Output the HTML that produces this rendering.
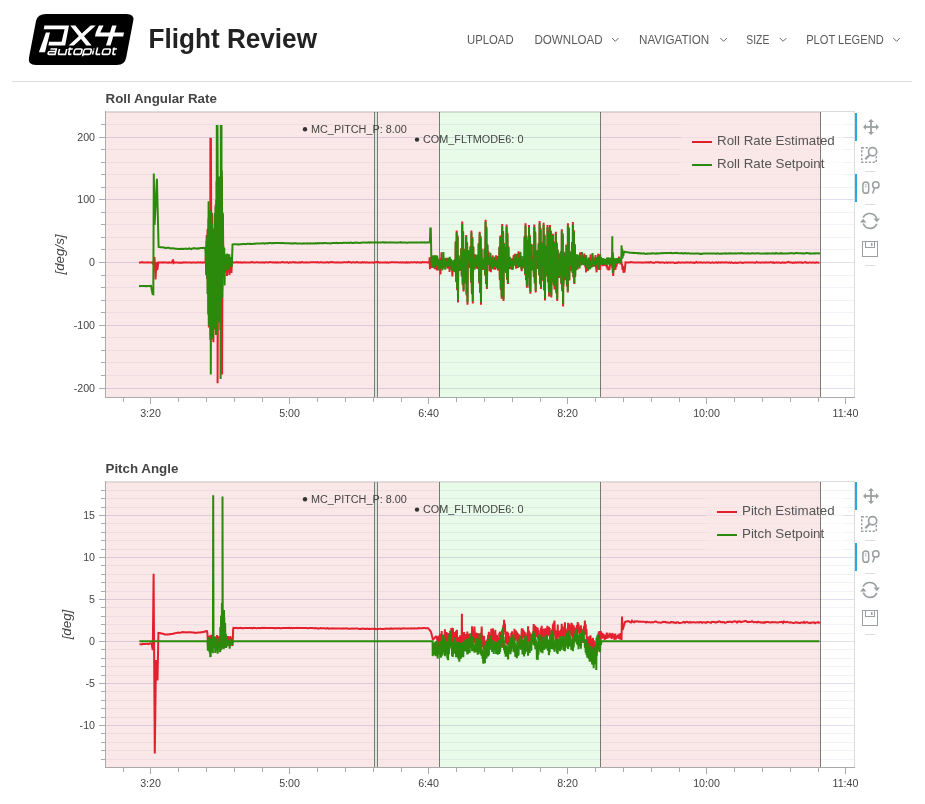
<!DOCTYPE html>
<html><head><meta charset="utf-8"><title>Flight Review</title>
<style>html,body{margin:0;padding:0;background:#fff;width:925px;height:804px;overflow:hidden}
svg{display:block;font-family:'Liberation Sans', sans-serif;will-change:transform}</style></head>
<body><svg width="925" height="804" viewBox="0 0 925 804">
<path d="M46,14 L126.5,14 Q134.5,14 133.3,20.5 L126.2,57.5 Q124.8,65 117,65 L36,65 Q27.5,65 29,57.5 L36,21 Q37.5,14 46,14 Z" fill="#000"/>
<path d="M44.4,25.6 L69,25.6 L65.2,45.4 L48.4,45.4 L49.1,41.8 L61.6,41.8 L64.6,29.3 L43.8,29.3 Z" fill="#fff"/>
<path d="M45.9,32.6 L50,32.6 L45,52.2 L38.9,52.2 Z" fill="#fff"/>
<path d="M70.2,25.6 L75.4,25.6 L91.6,45.4 L86.3,45.4 Z M90.6,25.6 L95.8,25.6 L73.8,45.4 L68.6,45.4 Z" fill="#fff"/>
<path d="M98.9,25.6 L103.6,25.6 L100.2,32.6 L124,32.6 L123.2,36.6 L95,36.6 L95.8,32.6 Z" fill="#fff"/>
<path d="M112.1,25.6 L116.6,25.6 L110.5,45.4 L106,45.4 Z" fill="#fff"/>
<path transform="translate(47.6,54.4) skewX(-14)" d="M1.5,-5.4 H7.4 V0 H1.5 Q0.2,0 0.2,-1.3 V-1.6 Q0.2,-2.9 1.5,-2.9 H7.4" fill="none" stroke="#fff" stroke-width="1.6"/>
<path transform="translate(58.0,54.4) skewX(-14)" d="M0.2,-5.4 V-1.5 Q0.2,0 1.7,0 H7.4 V-5.4" fill="none" stroke="#fff" stroke-width="1.6"/>
<path transform="translate(67.0,54.4) skewX(-14)" d="M1.4,-6.8 V-1.5 Q1.4,0 2.9,0 H4.4 M0,-5.4 H4.4" fill="none" stroke="#fff" stroke-width="1.6"/>
<path transform="translate(73.4,54.4) skewX(-14)" d="M1.6,-5.4 H6 Q7.5,-5.4 7.5,-3.9 V-1.5 Q7.5,0 6,0 H1.6 Q0.2,0 0.2,-1.5 V-3.9 Q0.2,-5.4 1.6,-5.4 Z" fill="none" stroke="#fff" stroke-width="1.6"/>
<path transform="translate(82.8,54.4) skewX(-14)" d="M0.2,1.8 V-3.9 Q0.2,-5.4 1.7,-5.4 H6 Q7.5,-5.4 7.5,-3.9 V-1.5 Q7.5,0 6,0 H0.2" fill="none" stroke="#fff" stroke-width="1.6"/>
<path transform="translate(91.8,54.4) skewX(-14)" d="M0.7,-4.0 V0 M0.7,-5.9 V-5.0" fill="none" stroke="#fff" stroke-width="1.6"/>
<path transform="translate(95.2,54.4) skewX(-14)" d="M0.7,-6.8 V-1.5 Q0.7,0 2.2,0 H5.0" fill="none" stroke="#fff" stroke-width="1.6"/>
<path transform="translate(101.8,54.4) skewX(-14)" d="M1.6,-5.4 H6 Q7.5,-5.4 7.5,-3.9 V-1.5 Q7.5,0 6,0 H1.6 Q0.2,0 0.2,-1.5 V-3.9 Q0.2,-5.4 1.6,-5.4 Z" fill="none" stroke="#fff" stroke-width="1.6"/>
<path transform="translate(111.2,54.4) skewX(-14)" d="M1.4,-6.8 V-1.5 Q1.4,0 2.9,0 H4.4 M0,-5.4 H4.4" fill="none" stroke="#fff" stroke-width="1.6"/>
<text x="148.5" y="47.8" font-size="27.4" font-weight="bold" fill="#222" textLength="168.5" lengthAdjust="spacingAndGlyphs">Flight Review</text>
<text x="467" y="43.8" font-size="13.4" fill="#5a5a5a" textLength="46.6" lengthAdjust="spacingAndGlyphs">UPLOAD</text>
<text x="534.5" y="43.8" font-size="13.4" fill="#5a5a5a" textLength="68.2" lengthAdjust="spacingAndGlyphs">DOWNLOAD</text>
<path d="M612,38 l3.3,3.3 l3.3,-3.3" fill="none" stroke="#5a5a5a" stroke-width="0.9"/>
<text x="639" y="43.8" font-size="13.4" fill="#5a5a5a" textLength="70.3" lengthAdjust="spacingAndGlyphs">NAVIGATION</text>
<path d="M720.3,38 l3.3,3.3 l3.3,-3.3" fill="none" stroke="#5a5a5a" stroke-width="0.9"/>
<text x="746.3" y="43.8" font-size="13.4" fill="#5a5a5a" textLength="23" lengthAdjust="spacingAndGlyphs">SIZE</text>
<path d="M779.8,38 l3.3,3.3 l3.3,-3.3" fill="none" stroke="#5a5a5a" stroke-width="0.9"/>
<text x="806.2" y="43.8" font-size="13.4" fill="#5a5a5a" textLength="77.5" lengthAdjust="spacingAndGlyphs">PLOT LEGEND</text>
<path d="M893.3,38 l3.3,3.3 l3.3,-3.3" fill="none" stroke="#5a5a5a" stroke-width="0.9"/>
<rect x="12" y="81" width="900" height="1" fill="#ddd"/>
<rect x="105" y="112" width="749" height="285" fill="#fff"/>
<rect x="106" y="375" width="748" height="1" fill="rgb(242,242,249)"/>
<rect x="106" y="362" width="748" height="1" fill="rgb(242,242,249)"/>
<rect x="106" y="350" width="748" height="1" fill="rgb(242,242,249)"/>
<rect x="106" y="337" width="748" height="1" fill="rgb(242,242,249)"/>
<rect x="106" y="312" width="748" height="1" fill="rgb(242,242,249)"/>
<rect x="106" y="300" width="748" height="1" fill="rgb(242,242,249)"/>
<rect x="106" y="287" width="748" height="1" fill="rgb(242,242,249)"/>
<rect x="106" y="275" width="748" height="1" fill="rgb(242,242,249)"/>
<rect x="106" y="249" width="748" height="1" fill="rgb(242,242,249)"/>
<rect x="106" y="237" width="748" height="1" fill="rgb(242,242,249)"/>
<rect x="106" y="224" width="748" height="1" fill="rgb(242,242,249)"/>
<rect x="106" y="212" width="748" height="1" fill="rgb(242,242,249)"/>
<rect x="106" y="187" width="748" height="1" fill="rgb(242,242,249)"/>
<rect x="106" y="174" width="748" height="1" fill="rgb(242,242,249)"/>
<rect x="106" y="162" width="748" height="1" fill="rgb(242,242,249)"/>
<rect x="106" y="149" width="748" height="1" fill="rgb(242,242,249)"/>
<rect x="106" y="124" width="748" height="1" fill="rgb(242,242,249)"/>
<rect x="106" y="137" width="748" height="1" fill="rgb(222,222,240)"/>
<rect x="106" y="199" width="748" height="1" fill="rgb(222,222,240)"/>
<rect x="106" y="262" width="748" height="1" fill="rgb(222,222,240)"/>
<rect x="106" y="325" width="748" height="1" fill="rgb(222,222,240)"/>
<rect x="106" y="388" width="748" height="1" fill="rgb(222,222,240)"/>
<rect x="681" y="123" width="163" height="60" fill="#fff" fill-opacity="0.6"/>
<rect x="105" y="112" width="269.5" height="285" fill="rgb(204,0,0)" fill-opacity="0.09"/>
<rect x="375" y="112" width="2" height="285" fill="rgb(212,232,220)"/>
<rect x="377.5" y="112" width="62.0" height="285" fill="rgb(204,0,0)" fill-opacity="0.09"/>
<rect x="439.5" y="112" width="161.0" height="285" fill="rgb(0,204,0)" fill-opacity="0.09"/>
<rect x="600.5" y="112" width="220.0" height="285" fill="rgb(204,0,0)" fill-opacity="0.09"/>
<line x1="374.5" y1="112" x2="374.5" y2="397" stroke="#000" stroke-opacity="0.5" stroke-width="1"/>
<line x1="377.5" y1="112" x2="377.5" y2="397" stroke="#000" stroke-opacity="0.5" stroke-width="1"/>
<line x1="439.5" y1="112" x2="439.5" y2="397" stroke="#000" stroke-opacity="0.5" stroke-width="1"/>
<line x1="600.5" y1="112" x2="600.5" y2="397" stroke="#000" stroke-opacity="0.5" stroke-width="1"/>
<line x1="820.5" y1="112" x2="820.5" y2="397" stroke="#000" stroke-opacity="0.5" stroke-width="1"/>
<rect x="106" y="112" width="715" height="1" fill="#000" fill-opacity="0.11"/>
<path d="M139.0,262.8 L140.0,262.5 L141.0,262.4 L142.0,262.1 L143.0,262.5 L144.0,262.5 L145.0,262.4 L146.0,262.5 L147.0,262.6 L148.0,262.3 L149.0,262.4 L150.0,262.4 L151.0,262.6 L152.0,262.6 L153.3,264.0 L154.5,257.0 L155.5,279.4 L156.5,262.0 L157.3,270.0 L158.3,262.5 L159.0,262.6 L160.0,262.4 L161.0,262.5 L162.0,262.2 L163.0,262.6 L164.0,262.3 L165.0,262.5 L166.0,262.5 L167.0,262.4 L168.0,262.9 L169.0,262.4 L170.0,262.6 L171.0,262.7 L172.0,262.3 L173.0,259.5 L173.6,263.0 L174.5,262.4 L175.5,262.6 L176.5,262.5 L177.5,262.6 L178.5,262.7 L179.5,262.6 L180.5,262.7 L181.5,262.6 L182.5,262.7 L183.5,262.3 L184.5,262.4 L185.5,262.3 L186.5,262.6 L187.5,262.5 L188.5,262.6 L189.5,262.5 L190.5,262.5 L191.5,262.8 L192.5,262.6 L193.5,262.5 L194.5,262.4 L195.5,262.7 L196.5,262.6 L197.5,262.3 L198.5,262.5 L199.5,262.5 L200.5,262.3 L201.5,262.5 L202.5,262.7 L203.5,262.3 L204.5,262.6 L205.5,262.8 L205.8,255.4 L206.2,275.1 L206.7,235.0 L207.1,278.9 L207.6,229.3 L208.0,291.4 L208.5,218.5 L208.9,327.5 L209.4,213.4 L209.8,325.9 L209.9,240.0 L210.3,221.4 L210.4,137.7 L210.7,335.5 L210.9,137.7 L211.2,219.3 L211.5,250.0 L211.6,313.0 L212.1,213.0 L212.5,339.3 L213.0,228.6 L213.4,342.2 L213.9,228.6 L214.3,325.3 L214.8,214.9 L215.2,329.6 L215.7,204.6 L216.1,334.7 L216.6,181.2 L217.0,331.3 L217.2,300.0 L217.5,195.6 L217.6,383.3 L217.9,309.7 L218.0,300.0 L218.4,198.1 L218.8,297.2 L219.3,193.9 L219.7,296.9 L220.2,186.3 L220.6,285.3 L221.1,178.1 L221.5,296.7 L221.7,300.0 L222.0,176.4 L222.1,374.6 L222.4,279.1 L222.5,290.0 L222.9,213.7 L223.3,255.9 L223.9,271.1 L224.5,255.5 L225.1,272.2 L225.7,257.1 L226.3,269.3 L226.9,257.2 L227.0,276.0 L227.5,270.1 L228.1,257.9 L228.7,269.8 L229.3,259.1 L229.5,275.0 L229.9,268.3 L230.5,257.3 L231.1,268.1 L231.5,273.0 L231.7,259.6 L232.5,262.6 L233.5,262.4 L234.5,262.4 L235.5,262.4 L236.5,262.1 L237.5,262.4 L238.5,262.2 L239.5,262.4 L240.5,262.3 L241.5,262.6 L242.5,262.4 L243.5,262.4 L244.5,262.2 L245.5,262.5 L246.5,262.4 L247.5,262.5 L248.5,262.5 L249.5,262.5 L250.5,262.4 L251.5,262.1 L252.5,262.2 L253.5,262.5 L254.5,262.6 L255.5,262.6 L256.5,262.3 L257.5,262.3 L258.5,262.5 L259.5,262.5 L260.5,262.4 L261.5,262.4 L262.5,262.2 L263.5,262.4 L264.5,262.6 L265.5,262.3 L266.5,262.3 L267.5,262.4 L268.5,262.4 L269.5,262.1 L270.5,262.3 L271.5,262.3 L272.5,262.4 L273.5,262.3 L274.5,262.4 L275.5,262.3 L276.5,262.7 L277.5,262.4 L278.5,262.6 L279.5,262.6 L280.5,262.4 L281.5,262.2 L282.5,262.1 L283.5,262.2 L284.5,262.4 L285.5,262.4 L286.5,262.3 L287.5,262.3 L288.5,262.8 L289.5,262.4 L290.5,262.2 L291.5,262.5 L292.5,262.3 L293.5,262.0 L294.5,262.4 L295.5,262.3 L296.5,262.4 L297.5,262.7 L298.5,262.4 L299.5,262.3 L300.5,262.6 L301.5,262.1 L302.5,262.2 L303.5,262.6 L304.5,262.6 L305.5,262.4 L306.5,262.3 L307.5,262.4 L308.5,262.4 L309.5,262.4 L310.5,262.3 L311.5,262.2 L312.5,262.3 L313.5,262.3 L314.5,262.3 L315.5,262.3 L316.5,262.4 L317.5,262.1 L318.5,262.5 L319.5,262.6 L320.5,262.3 L321.5,262.2 L322.5,262.4 L323.5,262.5 L324.5,262.4 L325.5,262.5 L326.5,262.3 L327.5,262.2 L328.5,262.6 L329.5,262.3 L330.5,262.3 L331.5,262.1 L332.5,262.3 L333.5,262.3 L334.5,262.4 L335.5,262.5 L336.5,262.4 L337.5,262.2 L338.5,262.6 L339.5,262.5 L340.5,262.5 L341.5,262.4 L342.5,262.4 L343.5,262.2 L344.5,262.2 L345.5,262.3 L346.5,262.3 L347.5,262.4 L348.5,261.9 L349.5,262.3 L350.5,262.3 L351.5,262.6 L352.5,262.3 L353.5,262.3 L354.5,262.4 L355.5,262.5 L356.5,262.1 L357.5,262.2 L358.5,262.5 L359.5,262.4 L360.5,262.4 L361.5,262.6 L362.5,262.1 L363.5,262.4 L364.5,262.3 L365.5,262.4 L366.5,262.3 L367.5,262.4 L368.5,262.8 L369.5,262.5 L370.5,262.4 L371.5,262.6 L372.5,262.5 L373.5,262.7 L374.5,262.3 L375.5,262.2 L376.5,262.1 L377.5,262.3 L378.5,262.1 L379.5,262.6 L380.5,262.4 L381.5,262.5 L382.5,262.4 L383.5,262.4 L384.5,262.4 L385.5,262.2 L386.5,262.6 L387.5,262.3 L388.5,262.7 L389.5,262.5 L390.5,262.2 L391.5,262.3 L392.5,262.3 L393.5,262.3 L394.5,262.3 L395.5,262.4 L396.5,262.3 L397.5,262.3 L398.5,262.4 L399.5,262.4 L400.5,262.3 L401.5,262.4 L402.5,262.3 L403.5,262.4 L404.5,262.4 L405.5,262.6 L406.5,262.1 L407.5,262.6 L408.5,262.3 L409.5,262.6 L410.5,262.3 L411.5,262.3 L412.5,262.4 L413.5,262.3 L414.5,262.3 L415.5,262.3 L416.5,262.6 L417.5,262.1 L418.5,262.4 L419.5,262.6 L420.5,262.3 L421.5,262.6 L422.5,262.0 L423.5,262.2 L424.5,262.3 L425.5,262.2 L426.5,262.3 L427.5,262.5 L428.5,262.2 L429.5,262.4 L429.6,257.2 L430.0,269.3 L430.3,262.2 L430.7,262.7 L431.0,257.1 L431.4,259.2 L431.7,256.6 L432.1,268.0 L432.4,263.6 L432.8,266.8 L433.1,262.3 L433.5,263.7 L433.8,256.0 L434.2,260.8 L434.5,261.5 L434.9,269.1 L435.2,255.5 L435.6,262.6 L435.9,259.7 L436.3,269.5 L436.6,265.5 L437.0,270.5 L437.3,258.3 L437.7,262.3 L438.0,261.4 L438.4,269.3 L438.7,259.7 L439.1,264.3 L439.4,262.6 L439.8,271.0 L440.1,263.2 L440.5,274.4 L440.8,258.0 L441.2,261.2 L441.5,252.2 L441.9,262.7 L442.2,263.1 L442.6,267.3 L442.9,260.1 L443.3,267.8 L443.6,263.3 L444.0,268.3 L444.3,261.5 L444.7,267.5 L445.0,262.5 L445.4,266.4 L445.7,257.8 L446.1,263.1 L446.4,260.7 L446.8,265.6 L447.1,261.5 L447.5,268.8 L447.8,258.4 L448.2,263.3 L448.5,259.0 L448.9,265.9 L449.2,260.4 L449.6,271.9 L449.9,259.1 L450.3,263.9 L450.6,258.7 L451.0,265.1 L451.3,261.2 L451.7,269.2 L452.0,268.2 L452.4,276.5 L452.7,262.3 L453.1,264.6 L453.4,261.7 L453.8,269.6 L454.1,263.2 L454.5,268.9 L454.8,261.0 L455.2,264.8 L455.5,257.7 L455.7,241.3 L455.9,265.1 L456.2,282.2 L456.2,258.6 L456.6,263.8 L456.7,230.6 L456.9,260.5 L457.1,290.2 L457.3,269.3 L457.6,235.4 L457.6,268.7 L458.0,271.0 L458.0,302.4 L458.3,260.1 L458.5,255.3 L458.7,264.1 L459.0,267.3 L459.4,270.9 L459.7,260.7 L460.1,266.0 L460.4,259.9 L460.8,265.7 L461.1,262.2 L461.3,248.1 L461.5,267.0 L461.8,276.7 L461.8,259.8 L462.2,261.1 L462.2,221.5 L462.5,254.0 L462.7,284.9 L462.9,263.9 L463.1,231.3 L463.2,259.4 L463.6,269.2 L463.6,291.4 L463.9,262.8 L464.1,248.8 L464.3,267.3 L464.6,256.7 L465.0,259.9 L465.2,250.2 L465.3,259.7 L465.7,264.3 L465.7,283.4 L466.0,253.6 L466.2,234.9 L466.4,257.7 L466.6,295.6 L466.7,252.2 L467.1,242.2 L467.1,263.4 L467.4,257.0 L467.5,304.7 L467.8,261.9 L468.0,250.6 L468.1,259.1 L468.5,267.3 L468.8,256.0 L469.2,267.9 L469.5,260.0 L469.9,263.8 L470.2,259.9 L470.5,246.1 L470.6,263.3 L470.9,262.4 L471.0,282.8 L471.3,272.8 L471.4,230.6 L471.6,262.1 L471.9,294.2 L472.0,259.5 L472.3,253.8 L472.3,237.1 L472.7,271.3 L472.8,303.6 L473.0,266.1 L473.3,246.4 L473.4,268.8 L473.7,261.0 L474.1,268.6 L474.4,262.1 L474.8,262.7 L475.1,254.4 L475.5,261.2 L475.8,257.3 L476.2,265.6 L476.5,263.4 L476.9,268.6 L477.2,258.9 L477.6,262.3 L477.9,258.3 L478.3,269.3 L478.6,262.9 L478.7,243.0 L479.0,266.0 L479.2,283.4 L479.3,257.3 L479.7,231.8 L479.7,267.6 L480.0,259.8 L480.1,292.9 L480.4,263.2 L480.6,235.9 L480.7,262.5 L481.0,304.7 L481.1,266.2 L481.4,262.9 L481.5,248.5 L481.8,268.6 L482.1,262.9 L482.5,266.0 L482.8,261.8 L483.2,269.9 L483.5,261.6 L483.9,266.1 L484.2,259.2 L484.6,263.6 L484.6,248.4 L484.9,261.6 L485.1,275.5 L485.3,268.8 L485.6,219.7 L485.6,262.4 L486.0,263.2 L486.0,284.0 L486.3,258.0 L486.4,226.4 L486.7,264.8 L486.9,289.0 L487.0,256.0 L487.4,264.7 L487.4,244.2 L487.7,258.5 L488.1,261.9 L488.4,251.2 L488.8,259.0 L489.1,260.2 L489.5,271.1 L489.8,259.4 L490.2,261.5 L490.5,261.5 L490.9,272.1 L491.2,264.3 L491.6,268.4 L491.9,260.8 L492.3,268.1 L492.6,255.3 L493.0,261.8 L493.3,259.5 L493.7,264.2 L494.0,263.1 L494.4,269.8 L494.7,263.1 L495.1,269.7 L495.4,262.0 L495.8,264.6 L496.1,255.4 L496.5,263.4 L496.8,261.0 L497.2,267.0 L497.5,264.3 L497.9,270.4 L498.2,257.9 L498.6,266.1 L498.9,259.5 L499.3,265.7 L499.4,246.5 L499.6,265.4 L499.9,280.3 L500.0,269.6 L500.3,258.7 L500.4,235.5 L500.7,262.6 L500.8,289.9 L501.0,256.9 L501.2,244.4 L501.2,245.1 L501.4,265.0 L501.7,298.7 L501.7,281.6 L501.7,258.9 L502.1,266.0 L502.2,223.9 L502.2,249.1 L502.4,263.5 L502.6,288.0 L502.8,272.1 L503.1,230.9 L503.1,259.0 L503.5,264.3 L503.5,301.1 L503.8,261.8 L504.0,243.0 L504.2,267.1 L504.5,259.4 L504.9,263.6 L505.2,260.6 L505.6,267.4 L505.6,246.9 L505.9,259.5 L506.1,273.1 L506.3,264.9 L506.6,224.5 L506.6,260.6 L507.0,268.0 L507.0,279.7 L507.3,258.0 L507.4,232.8 L507.7,259.7 L507.9,284.1 L508.0,253.8 L508.4,268.8 L508.4,246.4 L508.7,261.3 L509.1,265.2 L509.4,259.5 L509.8,269.3 L510.1,263.2 L510.5,268.4 L510.8,262.0 L511.2,269.3 L511.5,258.7 L511.9,263.7 L512.2,258.2 L512.6,269.8 L512.9,258.0 L513.3,265.4 L513.6,255.4 L514.0,259.6 L514.3,254.7 L514.7,264.7 L515.0,253.9 L515.4,262.3 L515.7,260.2 L516.1,268.8 L516.4,260.3 L516.8,263.8 L517.1,262.7 L517.5,268.0 L517.8,253.9 L518.2,260.1 L518.5,251.2 L518.9,259.1 L519.2,262.8 L519.6,267.2 L519.9,258.0 L520.3,262.8 L520.6,260.4 L521.0,265.8 L521.3,265.4 L521.7,271.2 L522.0,260.1 L522.4,263.0 L522.7,265.1 L523.1,268.4 L523.4,258.6 L523.8,261.8 L524.1,256.2 L524.5,261.0 L524.6,235.9 L524.8,259.7 L525.1,274.9 L525.2,269.6 L525.5,263.4 L525.5,223.3 L525.9,265.3 L526.0,280.2 L526.2,256.1 L526.5,235.8 L526.6,262.7 L526.9,287.7 L526.9,258.8 L527.3,264.7 L527.4,249.6 L527.6,256.1 L528.0,260.8 L528.1,239.9 L528.3,261.4 L528.6,277.9 L528.7,271.7 L529.0,260.1 L529.0,225.1 L529.4,269.2 L529.5,288.0 L529.7,265.9 L530.0,235.4 L530.1,270.3 L530.4,293.8 L530.4,263.5 L530.8,269.9 L530.9,243.7 L531.1,259.1 L531.5,262.4 L531.8,256.2 L532.2,261.8 L532.5,257.0 L532.9,264.6 L533.2,258.3 L533.4,244.0 L533.6,266.9 L533.9,277.3 L533.9,259.2 L534.3,258.6 L534.3,224.5 L534.6,253.2 L534.8,283.8 L535.0,259.4 L535.2,231.5 L535.3,252.3 L535.7,261.7 L535.7,292.6 L536.0,253.4 L536.2,253.6 L536.4,256.9 L536.7,254.1 L537.1,267.6 L537.4,263.2 L537.8,268.9 L538.1,258.0 L538.5,257.3 L538.7,243.1 L538.8,255.0 L539.2,268.2 L539.2,275.5 L539.5,262.1 L539.6,220.9 L539.9,269.7 L540.1,284.4 L540.2,263.4 L540.6,227.9 L540.6,265.8 L540.9,256.4 L541.0,289.0 L541.0,250.5 L541.3,263.7 L541.5,250.3 L541.6,262.5 L541.9,254.9 L542.0,266.9 L542.3,254.4 L542.7,260.0 L542.7,247.2 L542.8,241.8 L543.0,258.1 L543.2,281.3 L543.4,267.9 L543.6,222.7 L543.7,250.6 L543.7,265.3 L544.1,273.2 L544.1,290.5 L544.4,261.8 L544.6,234.5 L544.6,260.0 L544.8,261.9 L545.0,300.5 L545.1,257.6 L545.5,262.9 L545.5,266.0 L545.5,245.5 L545.8,260.7 L546.2,269.6 L546.4,249.0 L546.5,267.0 L546.6,248.1 L546.9,273.9 L547.1,276.4 L547.2,261.9 L547.3,265.6 L547.5,225.1 L547.6,262.1 L547.9,259.3 L548.0,282.2 L548.2,278.5 L548.3,261.9 L548.5,230.5 L548.6,258.8 L548.9,290.8 L549.0,265.1 L549.0,237.9 L549.1,296.4 L549.3,263.4 L549.4,247.8 L549.5,279.8 L549.7,274.1 L549.9,225.1 L550.0,282.1 L550.0,263.0 L550.4,263.6 L550.4,293.7 L550.7,258.9 L550.9,230.6 L550.9,274.1 L551.1,264.0 L551.3,297.5 L551.4,254.0 L551.8,259.2 L551.8,259.9 L551.8,252.6 L551.9,246.5 L552.1,254.7 L552.4,273.8 L552.5,259.4 L552.7,281.0 L552.8,253.2 L552.8,233.7 L553.2,260.6 L553.3,279.6 L553.5,258.6 L553.6,284.5 L553.8,241.6 L553.9,267.2 L554.2,285.7 L554.2,259.1 L554.5,289.4 L554.6,263.0 L554.7,250.0 L554.9,243.0 L554.9,256.2 L555.3,262.1 L555.4,269.5 L555.4,281.6 L555.6,258.6 L555.8,231.8 L556.0,268.8 L556.3,266.5 L556.3,293.5 L556.3,263.5 L556.7,266.9 L556.8,242.6 L557.0,260.6 L557.2,252.3 L557.2,301.1 L557.4,269.5 L557.7,249.6 L557.7,262.4 L558.1,262.4 L558.1,276.7 L558.4,255.3 L558.8,261.8 L559.0,278.1 L559.1,253.6 L559.5,261.7 L559.8,265.5 L559.9,273.3 L560.2,271.5 L560.5,269.4 L560.8,268.8 L560.8,251.4 L560.9,275.7 L561.2,263.9 L561.3,284.3 L561.6,265.8 L561.7,281.2 L561.8,229.3 L561.9,260.9 L562.2,291.3 L562.3,265.9 L562.6,276.6 L562.6,263.3 L562.7,233.3 L563.0,272.2 L563.1,306.6 L563.3,265.5 L563.5,286.6 L563.6,251.5 L563.7,259.9 L564.0,253.2 L564.4,265.5 L564.4,279.7 L564.7,261.9 L565.1,267.9 L565.3,280.2 L565.4,259.6 L565.5,255.7 L565.8,262.1 L566.0,277.3 L566.1,257.1 L566.2,266.8 L566.4,244.5 L566.5,265.1 L566.8,253.6 L566.9,286.6 L567.0,246.5 L567.1,278.1 L567.2,263.5 L567.4,250.6 L567.5,271.3 L567.5,261.8 L567.8,292.6 L567.9,266.0 L567.9,223.3 L568.0,273.6 L568.2,256.5 L568.3,255.1 L568.4,273.3 L568.6,262.5 L568.9,227.6 L568.9,270.0 L568.9,260.9 L569.3,265.2 L569.3,280.5 L569.6,260.1 L569.8,256.7 L569.8,253.5 L570.0,271.0 L570.3,266.3 L570.7,263.1 L570.7,251.5 L571.0,252.7 L571.4,260.7 L571.6,251.4 L571.7,262.5 L572.0,241.9 L572.1,263.7 L572.4,251.9 L572.5,269.4 L572.5,273.1 L572.8,258.6 L572.9,222.1 L573.1,253.1 L573.4,258.8 L573.4,277.5 L573.5,264.2 L573.8,267.2 L573.9,230.2 L574.2,273.8 L574.3,274.1 L574.3,284.1 L574.5,257.3 L574.8,243.9 L574.9,257.6 L575.2,277.1 L575.2,254.1 L575.6,262.8 L575.9,254.9 L576.3,260.7 L576.6,261.3 L577.0,268.4 L577.3,263.4 L577.7,269.4 L578.0,257.6 L578.4,261.8 L578.7,257.9 L579.1,262.0 L579.4,257.4 L579.8,261.0 L580.1,252.3 L580.5,262.5 L580.8,261.9 L581.2,265.5 L581.5,256.6 L581.9,263.8 L582.2,262.7 L582.6,264.2 L582.9,258.2 L583.3,264.2 L583.6,255.4 L584.0,261.1 L584.3,253.5 L584.7,262.3 L585.0,262.2 L585.4,267.4 L585.7,261.0 L586.1,272.4 L586.4,260.4 L586.8,261.0 L587.1,259.7 L587.5,270.6 L587.8,262.6 L588.2,270.5 L588.5,262.0 L588.9,263.4 L589.2,258.0 L589.6,265.8 L589.9,259.7 L590.3,259.8 L590.6,254.2 L591.0,261.0 L591.3,260.0 L591.7,265.4 L592.0,262.0 L592.4,266.8 L592.7,262.1 L593.1,266.7 L593.4,261.6 L593.8,266.7 L594.1,258.0 L594.5,264.0 L594.8,260.6 L595.2,264.3 L595.5,255.1 L595.9,266.7 L596.2,267.8 L596.6,272.3 L596.9,261.1 L597.3,263.0 L597.6,257.9 L598.0,257.4 L598.3,253.7 L598.7,264.2 L599.0,262.2 L599.4,269.5 L599.7,265.5 L600.1,270.0 L600.4,259.8 L600.8,262.8 L601.0,258.8 L601.5,263.9 L602.0,261.4 L602.5,266.1 L603.0,261.9 L603.5,265.5 L604.0,263.9 L604.5,265.8 L605.0,262.6 L605.5,265.2 L606.0,261.6 L606.5,267.2 L607.0,264.9 L607.5,269.4 L608.0,266.6 L608.5,270.4 L609.0,267.4 L609.5,270.0 L610.0,263.2 L610.5,266.0 L611.0,262.2 L611.5,265.3 L612.0,263.5 L612.5,268.4 L612.5,255.0 L613.0,265.9 L613.2,276.0 L613.5,269.1 L613.9,262.0 L614.0,266.3 L614.5,269.9 L615.0,266.7 L615.5,269.7 L616.0,264.2 L616.5,266.6 L617.0,262.0 L617.5,263.8 L618.0,258.7 L618.5,260.7 L619.0,256.7 L619.5,260.8 L620.0,259.7 L620.5,264.3 L621.0,260.4 L621.5,264.3 L622.0,263.8 L622.5,269.6 L623.0,266.1 L623.5,272.8 L624.0,269.3 L624.5,272.3 L625.5,262.4 L626.5,262.6 L627.5,262.5 L628.5,262.4 L629.5,262.5 L630.5,262.1 L631.5,262.3 L632.5,262.3 L633.5,262.4 L634.5,262.4 L635.5,262.5 L636.5,262.6 L637.5,262.6 L638.5,262.6 L639.5,262.4 L640.5,262.6 L641.5,262.5 L642.5,262.8 L643.5,262.6 L644.5,262.5 L645.5,262.5 L646.5,262.3 L647.5,262.5 L648.5,262.3 L649.5,262.6 L650.5,262.1 L651.5,262.3 L652.5,262.8 L653.5,262.8 L654.5,262.8 L655.5,262.2 L656.5,262.2 L657.5,262.2 L658.5,262.2 L659.5,262.6 L660.5,262.4 L661.5,262.5 L662.5,262.4 L663.5,262.4 L664.5,262.9 L665.5,262.6 L666.5,262.3 L667.5,262.8 L668.5,262.4 L669.5,262.5 L670.5,262.8 L671.5,262.4 L672.5,262.5 L673.5,262.5 L674.5,262.9 L675.5,262.9 L676.5,262.6 L677.5,262.9 L678.5,262.3 L679.5,262.5 L680.5,262.8 L681.5,262.5 L682.5,262.6 L683.5,262.6 L684.5,262.7 L685.5,262.6 L686.5,262.2 L687.5,262.5 L688.5,262.4 L689.5,262.7 L690.5,262.2 L691.5,262.4 L692.5,262.8 L693.5,262.6 L694.5,263.0 L695.5,262.5 L696.5,262.0 L697.5,262.7 L698.5,262.6 L699.5,262.5 L700.5,262.3 L701.5,262.5 L702.5,262.7 L703.5,262.6 L704.5,262.6 L705.5,262.7 L706.5,262.6 L707.5,262.3 L708.5,262.6 L709.5,262.6 L710.5,262.9 L711.5,262.6 L712.5,262.3 L713.5,262.8 L714.5,262.7 L715.5,262.4 L716.5,262.3 L717.5,262.9 L718.5,262.2 L719.5,262.4 L720.5,262.6 L721.5,262.3 L722.5,262.5 L723.5,262.6 L724.5,262.5 L725.5,262.3 L726.5,262.4 L727.5,262.5 L728.5,262.8 L729.5,262.3 L730.5,262.9 L731.5,262.4 L732.5,262.8 L733.5,263.0 L734.5,262.8 L735.5,262.5 L736.5,262.9 L737.5,262.8 L738.5,262.7 L739.5,262.5 L740.5,262.5 L741.5,262.5 L742.5,263.0 L743.5,262.7 L744.5,262.6 L745.5,262.5 L746.5,262.6 L747.5,262.5 L748.5,262.4 L749.5,262.6 L750.5,262.5 L751.5,262.6 L752.5,262.5 L753.5,262.4 L754.5,262.7 L755.5,262.7 L756.5,262.0 L757.5,262.5 L758.5,262.5 L759.5,262.5 L760.5,262.8 L761.5,262.6 L762.5,262.5 L763.5,262.4 L764.5,262.7 L765.5,262.2 L766.5,262.5 L767.5,262.4 L768.5,262.5 L769.5,262.5 L770.5,262.3 L771.5,262.3 L772.5,262.6 L773.5,262.4 L774.5,262.9 L775.5,262.6 L776.5,262.4 L777.5,262.7 L778.5,262.5 L779.5,262.6 L780.5,262.9 L781.5,262.8 L782.5,262.4 L783.5,262.7 L784.5,262.5 L785.5,262.8 L786.5,262.6 L787.5,262.3 L788.5,261.9 L789.5,262.4 L790.5,262.4 L791.5,262.4 L792.5,263.0 L793.5,262.6 L794.5,262.8 L795.5,262.4 L796.5,262.7 L797.5,262.5 L798.5,262.3 L799.5,262.5 L800.5,262.6 L801.5,262.4 L802.5,262.9 L803.5,262.6 L804.5,262.3 L805.5,262.1 L806.5,262.7 L807.5,262.8 L808.5,262.7 L809.5,262.4 L810.5,262.4 L811.5,262.7 L812.5,262.5 L813.5,262.6 L814.5,262.7 L815.5,262.8 L816.5,262.4 L817.5,262.6 L818.5,262.7 L819.5,262.5" fill="none" stroke="#e3202d" stroke-width="2" stroke-linejoin="miter" stroke-miterlimit="2"/>
<path d="M139.0,285.9 L140.0,285.9 L141.0,286.0 L142.0,285.9 L143.0,286.0 L144.0,285.9 L145.0,285.9 L146.0,286.3 L147.0,285.9 L148.0,286.0 L149.0,286.0 L150.0,286.0 L151.0,285.9 L152.6,294.0 L153.3,294.3 L153.8,173.4 L154.6,225.0 L156.9,178.7 L158.6,246.8 L159.2,246.9 L160.2,247.3 L161.2,247.3 L162.2,247.3 L163.2,247.5 L164.2,247.6 L165.2,247.9 L166.2,248.0 L167.2,247.7 L168.2,247.7 L169.2,247.8 L170.2,248.4 L171.2,248.5 L172.2,248.3 L173.2,248.2 L174.2,248.5 L175.2,248.8 L176.2,248.7 L177.2,248.7 L178.2,249.0 L179.2,249.0 L180.2,248.8 L181.2,249.0 L182.2,248.8 L183.2,248.9 L184.2,248.7 L185.2,248.7 L186.2,248.6 L187.2,248.9 L188.2,248.8 L189.2,248.4 L190.2,248.8 L191.2,249.2 L192.2,248.4 L193.2,248.4 L194.2,248.1 L195.2,248.4 L196.2,248.4 L197.2,248.6 L198.2,248.2 L199.2,248.4 L200.2,248.1 L201.2,248.1 L202.2,248.1 L203.2,247.7 L204.2,247.9 L205.2,247.7 L205.8,257.5 L206.2,269.8 L206.5,240.8 L206.8,275.7 L207.2,236.2 L207.5,293.9 L207.9,228.7 L208.2,314.6 L208.6,201.3 L208.9,325.7 L209.3,213.7 L209.6,321.0 L210.0,215.3 L210.3,340.0 L210.3,322.7 L210.7,210.3 L210.8,374.6 L211.0,315.4 L211.3,340.0 L211.4,212.2 L211.7,325.4 L212.1,223.5 L212.4,328.7 L212.8,229.3 L213.1,338.2 L213.5,234.7 L213.8,328.5 L214.2,240.1 L214.5,329.0 L214.9,212.9 L215.2,328.7 L215.6,206.2 L215.9,334.9 L216.2,200.0 L216.3,206.9 L216.6,310.8 L216.8,125.0 L217.0,197.5 L217.3,331.0 L217.5,125.0 L217.7,171.0 L218.0,317.2 L218.1,210.0 L218.4,205.1 L218.7,322.2 L219.1,176.4 L219.4,290.6 L219.8,187.1 L220.1,304.1 L220.2,200.0 L220.2,330.0 L220.5,186.3 L220.6,379.0 L220.8,125.0 L220.8,291.9 L221.0,330.0 L221.2,189.2 L221.5,125.0 L221.5,282.8 L221.9,170.4 L222.0,220.0 L222.2,297.7 L222.6,212.3 L222.9,278.2 L223.3,245.6 L223.8,277.3 L224.3,247.7 L224.3,262.0 L224.6,285.5 L224.8,270.8 L225.0,262.0 L225.3,254.3 L225.8,267.6 L226.3,255.4 L226.8,270.4 L227.3,253.6 L227.8,269.3 L228.3,256.6 L228.8,269.8 L229.3,254.2 L229.8,266.6 L230.3,257.1 L230.8,266.2 L231.3,257.3 L231.8,266.9 L232.5,244.5 L233.5,244.3 L234.5,244.2 L235.5,244.3 L236.5,244.3 L237.5,244.4 L238.5,244.3 L239.5,244.5 L240.5,244.2 L241.5,244.2 L242.5,244.1 L243.5,244.0 L244.5,244.1 L245.5,244.2 L246.5,243.9 L247.5,243.7 L248.5,243.8 L249.5,244.0 L250.5,243.7 L251.5,243.9 L252.5,244.0 L253.5,243.8 L254.5,243.5 L255.5,243.7 L256.5,243.6 L257.5,243.6 L258.5,243.4 L259.5,243.6 L260.5,243.6 L261.5,243.4 L262.5,243.3 L263.5,243.3 L264.5,243.6 L265.5,243.3 L266.5,243.2 L267.5,243.4 L268.5,243.1 L269.5,243.1 L270.5,243.0 L271.5,243.2 L272.5,243.1 L273.5,243.2 L274.5,243.0 L275.5,242.9 L276.5,242.9 L277.5,243.1 L278.5,243.0 L279.5,243.1 L280.5,243.0 L281.5,243.3 L282.5,243.0 L283.5,243.0 L284.5,243.2 L285.5,243.2 L286.5,243.2 L287.5,243.3 L288.5,243.3 L289.5,243.3 L290.5,243.5 L291.5,243.2 L292.5,243.5 L293.5,243.3 L294.5,243.4 L295.5,243.1 L296.5,243.4 L297.5,243.5 L298.5,243.6 L299.5,243.5 L300.5,243.4 L301.5,243.6 L302.5,243.7 L303.5,243.2 L304.5,243.4 L305.5,243.5 L306.5,243.5 L307.5,243.2 L308.5,243.4 L309.5,243.4 L310.5,243.3 L311.5,243.4 L312.5,243.4 L313.5,243.3 L314.5,243.5 L315.5,243.2 L316.5,243.5 L317.5,243.1 L318.5,243.4 L319.5,243.1 L320.5,243.3 L321.5,243.3 L322.5,243.1 L323.5,243.3 L324.5,243.1 L325.5,243.1 L326.5,243.2 L327.5,243.2 L328.5,243.2 L329.5,243.2 L330.5,243.4 L331.5,243.2 L332.5,243.1 L333.5,243.1 L334.5,243.0 L335.5,243.1 L336.5,242.9 L337.5,243.2 L338.5,243.0 L339.5,242.9 L340.5,242.9 L341.5,243.1 L342.5,243.0 L343.5,242.8 L344.5,242.8 L345.5,242.8 L346.5,242.9 L347.5,242.8 L348.5,242.7 L349.5,242.9 L350.5,242.5 L351.5,242.7 L352.5,243.0 L353.5,242.9 L354.5,242.5 L355.5,242.7 L356.5,242.6 L357.5,242.8 L358.5,242.8 L359.5,242.9 L360.5,242.8 L361.5,242.8 L362.5,242.5 L363.5,242.6 L364.5,242.6 L365.5,242.5 L366.5,242.8 L367.5,242.6 L368.5,242.4 L369.5,242.7 L370.5,242.4 L371.5,242.6 L372.5,242.5 L373.5,242.4 L374.5,242.4 L375.5,242.3 L376.5,242.4 L377.5,242.3 L378.5,242.5 L379.5,242.4 L380.5,242.5 L381.5,242.5 L382.5,242.3 L383.5,242.3 L384.5,242.7 L385.5,242.3 L386.5,242.4 L387.5,242.5 L388.5,242.5 L389.5,242.4 L390.5,242.3 L391.5,242.6 L392.5,242.6 L393.5,242.5 L394.5,242.5 L395.5,242.6 L396.5,242.7 L397.5,242.5 L398.5,242.5 L399.5,242.6 L400.5,242.2 L401.5,242.7 L402.5,242.4 L403.5,242.5 L404.5,242.6 L405.5,242.5 L406.5,242.7 L407.5,242.7 L408.5,242.5 L409.5,242.6 L410.5,242.6 L411.5,242.6 L412.5,242.5 L413.5,242.5 L414.5,242.5 L415.5,242.5 L416.5,242.6 L417.5,242.4 L418.5,242.6 L419.5,242.5 L420.5,242.5 L421.5,242.3 L422.5,242.4 L423.5,242.6 L424.5,242.4 L425.5,242.7 L426.5,242.4 L427.5,242.3 L428.5,242.5 L429.5,242.4 L429.9,243.0 L430.3,228.6 L430.8,228.6 L431.4,262.0 L431.5,260.7 L431.9,267.2 L432.2,261.9 L432.6,261.6 L432.9,255.9 L433.3,259.4 L433.6,255.4 L434.0,268.3 L434.3,262.4 L434.7,266.2 L435.0,262.7 L435.4,263.5 L435.7,255.3 L436.1,261.1 L436.4,262.1 L436.8,265.4 L437.1,255.5 L437.5,258.8 L437.8,259.8 L438.2,267.1 L438.5,263.7 L438.9,270.1 L439.2,260.7 L439.6,264.9 L439.9,259.9 L440.3,268.6 L440.6,261.5 L441.0,265.0 L441.3,260.5 L441.7,268.3 L442.0,266.2 L442.4,270.3 L442.7,259.3 L443.1,259.0 L443.4,252.1 L443.8,263.6 L444.1,259.4 L444.5,268.2 L444.8,258.9 L445.2,269.7 L445.5,262.9 L445.9,265.9 L446.2,261.2 L446.6,266.8 L446.9,261.2 L447.3,264.4 L447.6,257.9 L448.0,263.6 L448.3,260.1 L448.7,266.5 L449.0,261.3 L449.4,265.6 L449.7,256.8 L450.1,260.8 L450.4,259.4 L450.8,261.8 L451.1,259.2 L451.5,270.5 L451.8,262.3 L452.2,265.8 L452.5,261.1 L452.9,266.7 L453.2,260.3 L453.6,270.9 L453.9,265.6 L454.3,272.3 L454.6,259.6 L455.0,264.0 L455.3,263.8 L455.7,268.3 L455.7,242.6 L456.0,262.8 L456.2,281.0 L456.4,271.0 L456.7,232.4 L456.7,262.1 L457.1,262.9 L457.1,288.6 L457.4,257.1 L457.6,237.0 L457.8,264.3 L458.0,300.0 L458.1,258.4 L458.5,261.7 L458.5,255.7 L458.8,259.2 L459.2,269.7 L459.5,265.6 L459.9,270.2 L460.2,258.6 L460.6,264.2 L460.9,265.1 L461.3,269.2 L461.3,248.9 L461.6,261.9 L461.8,275.9 L462.0,263.3 L462.2,223.9 L462.3,261.0 L462.7,265.4 L462.7,283.6 L463.0,263.4 L463.1,233.1 L463.4,267.4 L463.6,289.8 L463.7,259.6 L464.1,263.4 L464.1,249.6 L464.4,255.7 L464.8,261.4 L465.1,260.0 L465.2,250.9 L465.5,265.4 L465.7,282.1 L465.8,260.9 L466.2,236.5 L466.2,265.2 L466.5,255.9 L466.6,293.7 L466.9,260.7 L467.1,243.4 L467.2,257.9 L467.5,302.3 L467.6,266.1 L467.9,257.3 L468.0,251.3 L468.3,256.8 L468.6,250.2 L469.0,261.1 L469.3,258.4 L469.7,259.1 L470.0,257.8 L470.4,267.8 L470.5,247.0 L470.7,259.5 L471.0,281.6 L471.1,266.4 L471.4,260.8 L471.4,232.4 L471.8,265.9 L471.9,292.3 L472.1,257.8 L472.3,238.5 L472.5,262.3 L472.8,301.2 L472.8,259.9 L473.2,271.7 L473.3,247.3 L473.5,258.8 L473.9,258.7 L474.2,257.3 L474.6,269.7 L474.9,267.1 L475.3,268.1 L475.6,260.6 L476.0,266.0 L476.3,259.5 L476.7,263.5 L477.0,254.9 L477.4,262.0 L477.7,258.9 L478.1,266.5 L478.4,263.6 L478.7,244.2 L478.8,266.2 L479.1,256.1 L479.2,282.1 L479.5,260.6 L479.7,233.6 L479.8,257.6 L480.1,291.2 L480.2,268.7 L480.5,264.0 L480.6,237.5 L480.9,263.0 L481.0,302.3 L481.2,256.8 L481.5,249.3 L481.6,265.9 L481.9,260.3 L482.3,262.5 L482.6,258.6 L483.0,269.2 L483.3,262.9 L483.7,268.8 L484.0,260.8 L484.4,263.8 L484.6,249.2 L484.7,261.4 L485.1,265.2 L485.1,274.7 L485.4,261.8 L485.6,222.1 L485.8,265.5 L486.0,282.7 L486.1,260.9 L486.4,228.5 L486.5,264.5 L486.8,261.3 L486.9,287.4 L487.2,269.5 L487.4,245.2 L487.5,261.1 L487.9,262.0 L488.2,256.5 L488.6,262.0 L488.9,258.9 L489.3,264.7 L489.6,260.3 L490.0,261.9 L490.3,252.9 L490.7,259.2 L491.0,259.4 L491.4,269.3 L491.7,257.6 L492.1,261.0 L492.4,260.3 L492.8,269.1 L493.1,261.9 L493.5,266.4 L493.8,262.9 L494.2,266.3 L494.5,256.8 L494.9,264.2 L495.2,259.6 L495.6,265.6 L495.9,260.1 L496.3,268.4 L496.6,260.6 L497.0,265.5 L497.3,263.1 L497.7,264.1 L498.0,256.0 L498.4,264.4 L498.7,262.3 L499.1,269.3 L499.4,247.5 L499.4,265.1 L499.8,269.0 L499.9,279.3 L500.1,260.5 L500.4,237.1 L500.5,265.4 L500.8,288.3 L500.8,260.4 L501.2,265.3 L501.2,245.5 L501.2,246.1 L501.5,263.1 L501.7,296.5 L501.7,280.4 L501.9,269.4 L502.2,226.1 L502.2,249.9 L502.2,258.3 L502.6,261.8 L502.6,286.5 L502.9,253.9 L503.1,232.8 L503.3,261.4 L503.5,298.9 L503.6,259.8 L504.0,263.7 L504.0,244.1 L504.3,263.0 L504.7,271.5 L505.0,260.1 L505.4,264.3 L505.6,247.8 L505.7,261.6 L506.1,266.5 L506.1,272.4 L506.4,256.1 L506.6,226.7 L506.8,263.2 L507.0,278.7 L507.1,261.1 L507.4,234.5 L507.5,266.6 L507.8,256.9 L507.9,282.9 L508.2,262.8 L508.4,247.3 L508.5,261.1 L508.9,265.0 L509.2,257.2 L509.6,259.1 L509.9,256.9 L510.3,267.3 L510.6,261.2 L511.0,266.2 L511.3,261.0 L511.7,269.0 L512.0,263.0 L512.4,270.0 L512.7,263.6 L513.1,267.9 L513.4,258.5 L513.8,261.6 L514.1,256.7 L514.5,265.8 L514.8,258.5 L515.2,263.3 L515.5,255.6 L515.9,261.4 L516.2,255.8 L516.6,265.1 L516.9,253.9 L517.3,262.4 L517.6,260.1 L518.0,267.8 L518.3,258.4 L518.7,264.3 L519.0,260.4 L519.4,266.1 L519.7,253.2 L520.1,257.1 L520.4,251.7 L520.8,258.3 L521.1,263.0 L521.5,269.5 L521.8,256.0 L522.2,265.0 L522.5,260.9 L522.9,266.7 L523.2,263.4 L523.6,266.8 L523.9,261.4 L524.3,263.1 L524.6,237.4 L524.6,263.0 L525.0,267.5 L525.1,274.1 L525.3,258.4 L525.5,225.5 L525.7,261.8 L526.0,279.1 L526.0,256.5 L526.4,259.7 L526.5,237.4 L526.7,259.7 L526.9,286.3 L527.1,265.8 L527.4,250.3 L527.4,262.9 L527.8,265.6 L528.1,241.2 L528.1,257.8 L528.5,262.8 L528.6,277.0 L528.8,260.9 L529.0,227.3 L529.2,263.8 L529.5,286.5 L529.5,255.8 L529.9,261.2 L530.0,236.9 L530.2,259.0 L530.4,292.0 L530.6,267.6 L530.9,244.8 L530.9,259.7 L531.3,267.8 L531.6,266.6 L532.0,268.7 L532.3,264.3 L532.7,270.4 L533.0,259.5 L533.4,264.5 L533.4,245.1 L533.7,258.3 L533.9,276.4 L534.1,261.5 L534.3,226.7 L534.4,254.9 L534.8,263.5 L534.8,282.5 L535.1,258.0 L535.2,233.3 L535.5,265.1 L535.7,290.8 L535.8,257.3 L536.2,259.0 L536.2,254.1 L536.5,255.5 L536.9,257.6 L537.2,250.3 L537.6,260.8 L537.9,254.1 L538.3,255.1 L538.6,254.5 L538.7,244.2 L539.0,267.6 L539.2,274.7 L539.3,265.3 L539.6,223.3 L539.7,269.1 L540.0,257.5 L540.1,283.1 L540.4,259.3 L540.6,229.9 L540.7,255.6 L541.0,287.4 L541.0,251.1 L541.1,266.4 L541.4,261.5 L541.5,251.0 L541.8,267.3 L541.9,254.3 L542.1,261.6 L542.5,263.1 L542.7,248.1 L542.8,242.9 L542.8,256.2 L543.2,264.5 L543.2,280.1 L543.5,260.6 L543.6,225.1 L543.7,250.8 L543.9,266.6 L544.1,288.9 L544.2,257.7 L544.6,236.1 L544.6,261.0 L544.6,259.9 L544.9,257.8 L545.0,298.3 L545.3,265.9 L545.5,264.8 L545.5,246.5 L545.6,264.7 L546.0,272.5 L546.3,261.2 L546.4,249.6 L546.6,249.0 L546.7,261.3 L547.0,256.2 L547.1,275.6 L547.3,264.4 L547.4,263.3 L547.5,227.3 L547.7,259.4 L548.0,281.0 L548.1,267.3 L548.2,276.8 L548.4,265.8 L548.5,232.4 L548.8,271.4 L548.9,289.2 L549.0,239.3 L549.1,292.5 L549.1,262.5 L549.4,248.7 L549.5,262.8 L549.5,278.7 L549.8,259.8 L549.9,227.3 L550.0,280.0 L550.2,263.5 L550.4,291.9 L550.5,258.2 L550.9,232.5 L550.9,266.2 L550.9,272.0 L551.2,263.2 L551.3,295.5 L551.6,270.0 L551.8,259.8 L551.8,253.2 L551.9,247.4 L551.9,263.4 L552.3,261.8 L552.4,273.2 L552.6,259.7 L552.7,278.5 L552.8,235.3 L553.0,263.2 L553.3,278.6 L553.3,254.4 L553.6,282.3 L553.7,259.7 L553.8,242.8 L554.0,254.5 L554.2,284.3 L554.4,258.4 L554.5,285.9 L554.7,250.7 L554.7,251.5 L554.9,244.1 L555.1,260.6 L555.4,268.5 L555.4,280.4 L555.4,259.5 L555.8,265.2 L555.8,233.6 L556.1,260.5 L556.3,265.2 L556.3,291.7 L556.5,263.4 L556.8,243.8 L556.8,256.1 L557.2,259.1 L557.2,252.8 L557.2,298.9 L557.5,257.9 L557.7,250.3 L557.9,268.2 L558.1,274.2 L558.2,260.7 L558.6,265.8 L558.9,263.0 L559.0,276.3 L559.3,270.5 L559.6,260.3 L559.9,271.5 L560.0,262.1 L560.3,257.8 L560.7,260.8 L560.8,267.7 L560.8,252.1 L561.0,251.4 L561.3,283.0 L561.4,260.0 L561.7,278.5 L561.7,264.5 L561.8,231.3 L562.1,271.2 L562.2,289.6 L562.4,266.6 L562.6,274.8 L562.7,235.0 L562.8,275.4 L563.1,304.0 L563.1,265.4 L563.5,264.4 L563.5,283.4 L563.6,252.1 L563.8,261.1 L564.2,265.6 L564.4,277.6 L564.5,264.6 L564.9,270.1 L565.2,262.5 L565.3,277.4 L565.5,256.1 L565.6,261.2 L565.9,253.3 L566.0,276.4 L566.2,265.7 L566.3,263.6 L566.4,245.5 L566.6,262.5 L566.9,285.2 L567.0,265.6 L567.0,247.4 L567.1,275.8 L567.3,259.3 L567.4,251.3 L567.5,270.7 L567.7,260.8 L567.8,290.8 L567.9,225.5 L568.0,272.1 L568.0,259.4 L568.3,255.5 L568.4,264.1 L568.4,272.7 L568.7,253.7 L568.9,229.6 L568.9,268.3 L569.1,263.4 L569.3,279.5 L569.4,262.8 L569.8,264.3 L569.8,256.8 L569.8,254.0 L570.1,255.5 L570.5,263.6 L570.7,251.4 L570.8,260.4 L571.2,265.8 L571.5,259.5 L571.6,251.8 L571.9,270.8 L572.0,243.0 L572.2,264.4 L572.5,267.8 L572.5,272.4 L572.6,262.1 L572.9,252.9 L572.9,224.5 L573.3,260.2 L573.4,258.6 L573.4,276.7 L573.6,262.2 L573.9,232.1 L574.0,263.3 L574.3,271.9 L574.3,282.9 L574.3,252.2 L574.7,256.3 L574.8,245.0 L575.0,253.9 L575.2,275.2 L575.4,262.7 L575.7,266.9 L576.1,270.2 L576.4,257.3 L576.8,258.8 L577.1,254.4 L577.5,262.0 L577.8,254.7 L578.2,261.6 L578.5,259.9 L578.9,267.0 L579.2,263.1 L579.6,268.4 L579.9,259.9 L580.3,262.8 L580.6,258.8 L581.0,261.8 L581.3,255.4 L581.7,261.0 L582.0,252.0 L582.4,260.4 L582.7,261.5 L583.1,264.8 L583.4,258.0 L583.8,263.8 L584.1,260.6 L584.5,265.5 L584.8,260.2 L585.2,263.4 L585.5,256.4 L585.9,258.7 L586.2,255.1 L586.6,261.2 L586.9,260.9 L587.3,267.8 L587.6,260.4 L588.0,270.6 L588.3,261.5 L588.7,258.3 L589.0,257.6 L589.4,266.8 L589.7,261.5 L590.1,269.3 L590.4,260.8 L590.8,265.8 L591.1,261.2 L591.5,267.6 L591.8,259.3 L592.2,260.3 L592.5,253.0 L592.9,259.2 L593.2,256.6 L593.6,264.2 L593.9,260.7 L594.3,266.4 L594.6,261.7 L595.0,264.8 L595.3,262.7 L595.7,263.2 L596.0,257.8 L596.4,264.1 L596.7,261.9 L597.1,264.7 L597.4,257.1 L597.8,267.0 L598.1,268.1 L598.5,269.9 L598.8,259.0 L599.2,262.3 L599.5,255.2 L599.9,259.1 L600.2,254.2 L600.6,264.1 L600.9,264.5 L601.0,257.0 L601.6,265.0 L602.2,258.5 L602.8,264.0 L603.4,258.2 L604.0,264.7 L604.6,259.0 L605.2,264.0 L605.8,258.9 L606.4,264.8 L607.0,257.6 L607.6,264.7 L608.2,257.4 L608.8,264.3 L609.4,258.1 L610.0,263.9 L610.6,257.5 L611.2,264.4 L611.5,262.2 L611.8,262.0 L611.8,258.5 L611.9,266.1 L612.2,245.6 L612.3,236.2 L612.4,263.7 L612.6,269.1 L612.9,273.2 L612.9,252.3 L613.0,258.4 L613.3,271.8 L613.5,262.0 L613.6,257.7 L613.6,263.3 L614.0,267.7 L614.2,258.9 L614.3,258.0 L614.7,266.2 L614.8,263.8 L615.4,258.9 L616.0,263.6 L616.6,258.1 L617.2,263.0 L617.8,258.0 L618.4,263.1 L619.0,258.3 L619.6,262.9 L620.2,258.5 L620.8,262.4 L620.8,263.2 L621.1,262.9 L621.2,262.0 L621.5,248.9 L621.6,245.4 L621.9,258.6 L622.2,248.8 L622.3,252.0 L622.6,258.3 L622.9,250.8 L623.0,251.5 L623.3,255.9 L624.0,251.6 L625.0,251.7 L626.0,252.0 L627.0,252.2 L628.0,252.3 L629.0,252.6 L630.0,252.8 L631.0,252.8 L632.0,252.8 L633.0,253.0 L634.0,252.8 L635.0,252.9 L636.0,253.0 L637.0,253.1 L638.0,253.5 L639.0,253.0 L640.0,253.5 L641.0,253.2 L642.0,253.4 L643.0,253.6 L644.0,253.4 L645.0,253.7 L646.0,253.9 L647.0,253.6 L648.0,253.8 L649.0,253.5 L650.0,253.5 L651.0,253.7 L652.0,253.3 L653.0,253.3 L654.0,253.5 L655.0,253.4 L656.0,253.6 L657.0,253.2 L658.0,253.4 L659.0,253.4 L660.0,253.3 L661.0,253.3 L662.0,253.1 L663.0,253.2 L664.0,253.1 L665.0,253.1 L666.0,253.2 L667.0,252.9 L668.0,253.0 L669.0,253.1 L670.0,253.0 L671.0,252.8 L672.0,253.2 L673.0,253.3 L674.0,253.1 L675.0,253.1 L676.0,253.1 L677.0,252.9 L678.0,253.2 L679.0,253.3 L680.0,253.2 L681.0,253.3 L682.0,253.1 L683.0,253.5 L684.0,253.5 L685.0,253.0 L686.0,253.3 L687.0,253.5 L688.0,253.3 L689.0,253.3 L690.0,253.4 L691.0,253.7 L692.0,253.4 L693.0,253.4 L694.0,253.7 L695.0,253.5 L696.0,253.6 L697.0,253.5 L698.0,253.6 L699.0,253.5 L700.0,253.9 L701.0,253.7 L702.0,253.9 L703.0,253.6 L704.0,253.5 L705.0,253.6 L706.0,253.5 L707.0,253.5 L708.0,253.5 L709.0,253.6 L710.0,253.6 L711.0,253.6 L712.0,253.6 L713.0,253.6 L714.0,253.6 L715.0,253.5 L716.0,253.7 L717.0,253.5 L718.0,253.3 L719.0,253.8 L720.0,253.7 L721.0,253.5 L722.0,253.7 L723.0,253.5 L724.0,253.4 L725.0,253.3 L726.0,253.6 L727.0,253.4 L728.0,253.5 L729.0,253.3 L730.0,253.5 L731.0,253.3 L732.0,253.5 L733.0,253.5 L734.0,253.5 L735.0,253.3 L736.0,253.6 L737.0,253.5 L738.0,253.3 L739.0,253.2 L740.0,253.5 L741.0,253.3 L742.0,253.1 L743.0,253.4 L744.0,253.5 L745.0,253.6 L746.0,253.5 L747.0,253.4 L748.0,253.3 L749.0,253.4 L750.0,253.7 L751.0,253.4 L752.0,253.3 L753.0,253.3 L754.0,253.6 L755.0,253.5 L756.0,253.4 L757.0,253.3 L758.0,253.3 L759.0,253.5 L760.0,253.4 L761.0,253.7 L762.0,253.6 L763.0,253.4 L764.0,253.4 L765.0,253.7 L766.0,253.4 L767.0,253.6 L768.0,253.3 L769.0,253.5 L770.0,253.4 L771.0,253.6 L772.0,253.5 L773.0,253.3 L774.0,253.5 L775.0,253.6 L776.0,253.0 L777.0,253.5 L778.0,253.4 L779.0,253.7 L780.0,253.5 L781.0,252.9 L782.0,253.6 L783.0,253.5 L784.0,253.4 L785.0,253.6 L786.0,253.5 L787.0,253.4 L788.0,253.4 L789.0,253.2 L790.0,253.3 L791.0,253.3 L792.0,253.1 L793.0,253.4 L794.0,253.6 L795.0,253.2 L796.0,253.1 L797.0,253.1 L798.0,253.3 L799.0,253.2 L800.0,253.2 L801.0,253.3 L802.0,253.4 L803.0,253.2 L804.0,253.4 L805.0,253.5 L806.0,253.1 L807.0,253.0 L808.0,253.3 L809.0,253.2 L810.0,253.6 L811.0,253.4 L812.0,253.5 L813.0,253.5 L814.0,253.4 L815.0,253.2 L816.0,253.4 L817.0,253.3 L818.0,253.2 L819.0,253.5 L820.0,253.2" fill="none" stroke="#2b8a0c" stroke-width="2" stroke-linejoin="miter" stroke-miterlimit="2"/>
<rect x="105.5" y="111.5" width="749" height="286" fill="none" stroke="#dcdcdc" stroke-width="1"/>
<rect x="105" y="111" width="1" height="287" fill="#aaa"/>
<rect x="105" y="397" width="750" height="1" fill="#aaa"/>
<rect x="99" y="137" width="6" height="1" fill="#aaa"/>
<text x="95" y="141" text-anchor="end" font-size="10.67" fill="#444">200</text>
<rect x="99" y="199" width="6" height="1" fill="#aaa"/>
<text x="95" y="203" text-anchor="end" font-size="10.67" fill="#444">100</text>
<rect x="99" y="262" width="6" height="1" fill="#aaa"/>
<text x="95" y="266" text-anchor="end" font-size="10.67" fill="#444">0</text>
<rect x="99" y="325" width="6" height="1" fill="#aaa"/>
<text x="95" y="329" text-anchor="end" font-size="10.67" fill="#444">-100</text>
<rect x="99" y="388" width="6" height="1" fill="#aaa"/>
<text x="95" y="392" text-anchor="end" font-size="10.67" fill="#444">-200</text>
<rect x="101" y="375" width="4" height="1" fill="#aaa"/>
<rect x="101" y="362" width="4" height="1" fill="#aaa"/>
<rect x="101" y="350" width="4" height="1" fill="#aaa"/>
<rect x="101" y="337" width="4" height="1" fill="#aaa"/>
<rect x="101" y="312" width="4" height="1" fill="#aaa"/>
<rect x="101" y="300" width="4" height="1" fill="#aaa"/>
<rect x="101" y="287" width="4" height="1" fill="#aaa"/>
<rect x="101" y="275" width="4" height="1" fill="#aaa"/>
<rect x="101" y="249" width="4" height="1" fill="#aaa"/>
<rect x="101" y="237" width="4" height="1" fill="#aaa"/>
<rect x="101" y="224" width="4" height="1" fill="#aaa"/>
<rect x="101" y="212" width="4" height="1" fill="#aaa"/>
<rect x="101" y="187" width="4" height="1" fill="#aaa"/>
<rect x="101" y="174" width="4" height="1" fill="#aaa"/>
<rect x="101" y="162" width="4" height="1" fill="#aaa"/>
<rect x="101" y="149" width="4" height="1" fill="#aaa"/>
<rect x="101" y="124" width="4" height="1" fill="#aaa"/>
<rect x="150" y="398" width="1" height="6" fill="#aaa"/>
<text x="150.5" y="416.5" text-anchor="middle" font-size="10.67" fill="#444">3:20</text>
<rect x="289" y="398" width="1" height="6" fill="#aaa"/>
<text x="289.5" y="416.5" text-anchor="middle" font-size="10.67" fill="#444">5:00</text>
<rect x="428" y="398" width="1" height="6" fill="#aaa"/>
<text x="428.5" y="416.5" text-anchor="middle" font-size="10.67" fill="#444">6:40</text>
<rect x="567" y="398" width="1" height="6" fill="#aaa"/>
<text x="567.5" y="416.5" text-anchor="middle" font-size="10.67" fill="#444">8:20</text>
<rect x="706" y="398" width="1" height="6" fill="#aaa"/>
<text x="706.5" y="416.5" text-anchor="middle" font-size="10.67" fill="#444">10:00</text>
<rect x="845" y="398" width="1" height="6" fill="#aaa"/>
<text x="845.5" y="416.5" text-anchor="middle" font-size="10.67" fill="#444">11:40</text>
<rect x="123" y="398" width="1" height="4" fill="#aaa"/>
<rect x="178" y="398" width="1" height="4" fill="#aaa"/>
<rect x="206" y="398" width="1" height="4" fill="#aaa"/>
<rect x="234" y="398" width="1" height="4" fill="#aaa"/>
<rect x="262" y="398" width="1" height="4" fill="#aaa"/>
<rect x="317" y="398" width="1" height="4" fill="#aaa"/>
<rect x="345" y="398" width="1" height="4" fill="#aaa"/>
<rect x="373" y="398" width="1" height="4" fill="#aaa"/>
<rect x="401" y="398" width="1" height="4" fill="#aaa"/>
<rect x="456" y="398" width="1" height="4" fill="#aaa"/>
<rect x="484" y="398" width="1" height="4" fill="#aaa"/>
<rect x="512" y="398" width="1" height="4" fill="#aaa"/>
<rect x="540" y="398" width="1" height="4" fill="#aaa"/>
<rect x="595" y="398" width="1" height="4" fill="#aaa"/>
<rect x="623" y="398" width="1" height="4" fill="#aaa"/>
<rect x="651" y="398" width="1" height="4" fill="#aaa"/>
<rect x="679" y="398" width="1" height="4" fill="#aaa"/>
<rect x="734" y="398" width="1" height="4" fill="#aaa"/>
<rect x="762" y="398" width="1" height="4" fill="#aaa"/>
<rect x="790" y="398" width="1" height="4" fill="#aaa"/>
<rect x="818" y="398" width="1" height="4" fill="#aaa"/>
<text transform="translate(64,254.5) rotate(-90)" text-anchor="middle" font-size="13.33" font-style="italic" fill="#444">[deg/s]</text>
<text x="105.5" y="103" font-size="13.33" font-weight="bold" fill="#444">Roll Angular Rate</text>
<circle cx="305" cy="129.2" r="2.2" fill="#333"/>
<text x="311" y="132.5" font-size="10.85" fill="#444">MC_PITCH_P: 8.00</text>
<circle cx="417" cy="139.6" r="2.2" fill="#333"/>
<text x="423" y="143" font-size="10.85" fill="#444">COM_FLTMODE6: 0</text>
<rect x="692" y="141" width="20" height="2" fill="#e0202a"/>
<rect x="692" y="164" width="20" height="2" fill="#2a8a10"/>
<text x="717" y="144.7" font-size="13.33" fill="#555">Roll Rate Estimated</text>
<text x="717" y="167.7" font-size="13.33" fill="#555">Roll Rate Setpoint</text>
<rect x="855" y="113" width="2" height="28" fill="#26aae1"/>
<rect x="855" y="174" width="2" height="28" fill="#26aae1"/>
<g fill="#9aa0a2" stroke="none"><rect x="865" y="126.1" width="12" height="1.8"/><rect x="870.1" y="121" width="1.8" height="12"/><path d="M863,127 l3,-3 v6z M879,127 l-3,-3 v6z M871,119 l-3,3 h6z M871,135 l-3,-3 h6z"/></g>
<rect x="861.75" y="147.75" width="14.5" height="14.5" fill="none" stroke="#9aa0a2" stroke-width="1.5" stroke-dasharray="2.2,1.6"/>
<circle cx="872.6" cy="151.8" r="5.6" fill="#fff"/>
<circle cx="872.6" cy="151.8" r="4.1" fill="none" stroke="#9aa0a2" stroke-width="1.7"/>
<line x1="869.5" y1="155" x2="865.3" y2="159.3" stroke="#9aa0a2" stroke-width="2.1"/>
<rect x="865" y="171" width="10" height="1" fill="#ddd"/>
<rect x="862.9" y="181.9" width="5.8" height="11.4" rx="2.9" fill="none" stroke="#9aa0a2" stroke-width="1.5"/>
<rect x="865.2" y="184.3" width="1.3" height="1" fill="#9aa0a2"/>
<rect x="865.2" y="186.3" width="1.3" height="1" fill="#9aa0a2"/>
<circle cx="875.8" cy="184.9" r="3.2" fill="none" stroke="#9aa0a2" stroke-width="1.5"/>
<line x1="874.6" y1="188" x2="872.6" y2="193.6" stroke="#9aa0a2" stroke-width="1.5"/>
<rect x="865" y="204" width="10" height="1" fill="#ddd"/>
<path d="M863.2,217.6 A7.3,7.5 0 0 1 876.6,218.5" fill="none" stroke="#9aa0a2" stroke-width="1.7"/>
<path d="M873.6,218.6 L880,218.6 L876.8,222.3 Z" fill="#9aa0a2"/>
<path d="M876.8,223.8 A7.3,7.5 0 0 1 863.3,223.5" fill="none" stroke="#9aa0a2" stroke-width="1.7"/>
<path d="M860,222.4 L866.4,222.4 L863.2,218.7 Z" fill="#9aa0a2"/>
<rect x="862.5" y="241.5" width="15" height="15" fill="none" stroke="#9aa0a2" stroke-width="1"/>
<rect x="865.5" y="241.5" width="9" height="6" fill="none" stroke="#9aa0a2" stroke-width="1"/>
<rect x="871" y="243" width="1.5" height="3" fill="#9aa0a2"/>
<rect x="865" y="265" width="10" height="1" fill="#ddd"/>
<rect x="105" y="482" width="749" height="285" fill="#fff"/>
<rect x="106" y="759" width="748" height="1" fill="rgb(242,242,249)"/>
<rect x="106" y="750" width="748" height="1" fill="rgb(242,242,249)"/>
<rect x="106" y="742" width="748" height="1" fill="rgb(242,242,249)"/>
<rect x="106" y="733" width="748" height="1" fill="rgb(242,242,249)"/>
<rect x="106" y="717" width="748" height="1" fill="rgb(242,242,249)"/>
<rect x="106" y="708" width="748" height="1" fill="rgb(242,242,249)"/>
<rect x="106" y="700" width="748" height="1" fill="rgb(242,242,249)"/>
<rect x="106" y="691" width="748" height="1" fill="rgb(242,242,249)"/>
<rect x="106" y="675" width="748" height="1" fill="rgb(242,242,249)"/>
<rect x="106" y="666" width="748" height="1" fill="rgb(242,242,249)"/>
<rect x="106" y="658" width="748" height="1" fill="rgb(242,242,249)"/>
<rect x="106" y="649" width="748" height="1" fill="rgb(242,242,249)"/>
<rect x="106" y="633" width="748" height="1" fill="rgb(242,242,249)"/>
<rect x="106" y="624" width="748" height="1" fill="rgb(242,242,249)"/>
<rect x="106" y="616" width="748" height="1" fill="rgb(242,242,249)"/>
<rect x="106" y="607" width="748" height="1" fill="rgb(242,242,249)"/>
<rect x="106" y="591" width="748" height="1" fill="rgb(242,242,249)"/>
<rect x="106" y="582" width="748" height="1" fill="rgb(242,242,249)"/>
<rect x="106" y="574" width="748" height="1" fill="rgb(242,242,249)"/>
<rect x="106" y="565" width="748" height="1" fill="rgb(242,242,249)"/>
<rect x="106" y="549" width="748" height="1" fill="rgb(242,242,249)"/>
<rect x="106" y="540" width="748" height="1" fill="rgb(242,242,249)"/>
<rect x="106" y="532" width="748" height="1" fill="rgb(242,242,249)"/>
<rect x="106" y="523" width="748" height="1" fill="rgb(242,242,249)"/>
<rect x="106" y="507" width="748" height="1" fill="rgb(242,242,249)"/>
<rect x="106" y="498" width="748" height="1" fill="rgb(242,242,249)"/>
<rect x="106" y="490" width="748" height="1" fill="rgb(242,242,249)"/>
<rect x="106" y="515" width="748" height="1" fill="rgb(222,222,240)"/>
<rect x="106" y="557" width="748" height="1" fill="rgb(222,222,240)"/>
<rect x="106" y="599" width="748" height="1" fill="rgb(222,222,240)"/>
<rect x="106" y="641" width="748" height="1" fill="rgb(222,222,240)"/>
<rect x="106" y="683" width="748" height="1" fill="rgb(222,222,240)"/>
<rect x="106" y="725" width="748" height="1" fill="rgb(222,222,240)"/>
<rect x="706" y="493" width="138" height="60" fill="#fff" fill-opacity="0.6"/>
<rect x="105" y="482" width="269.5" height="285" fill="rgb(204,0,0)" fill-opacity="0.09"/>
<rect x="375" y="482" width="2" height="285" fill="rgb(212,232,220)"/>
<rect x="377.5" y="482" width="62.0" height="285" fill="rgb(204,0,0)" fill-opacity="0.09"/>
<rect x="439.5" y="482" width="161.0" height="285" fill="rgb(0,204,0)" fill-opacity="0.09"/>
<rect x="600.5" y="482" width="220.0" height="285" fill="rgb(204,0,0)" fill-opacity="0.09"/>
<line x1="374.5" y1="482" x2="374.5" y2="767" stroke="#000" stroke-opacity="0.5" stroke-width="1"/>
<line x1="377.5" y1="482" x2="377.5" y2="767" stroke="#000" stroke-opacity="0.5" stroke-width="1"/>
<line x1="439.5" y1="482" x2="439.5" y2="767" stroke="#000" stroke-opacity="0.5" stroke-width="1"/>
<line x1="600.5" y1="482" x2="600.5" y2="767" stroke="#000" stroke-opacity="0.5" stroke-width="1"/>
<line x1="820.5" y1="482" x2="820.5" y2="767" stroke="#000" stroke-opacity="0.5" stroke-width="1"/>
<rect x="106" y="482" width="715" height="1" fill="#000" fill-opacity="0.07"/>
<path d="M139.5,644.3 L140.5,644.3 L141.5,644.4 L142.5,643.9 L143.5,644.1 L144.5,644.0 L145.5,643.9 L146.5,643.7 L147.5,643.7 L148.5,644.1 L149.5,643.6 L150.5,643.5 L151.5,643.3 L152.8,650.0 L153.6,573.7 L154.8,753.5 L156.0,660.0 L157.5,680.4 L158.4,633.0 L159.0,633.1 L160.0,633.0 L161.0,633.5 L162.0,633.5 L163.0,633.8 L164.0,634.1 L165.0,634.5 L166.0,634.6 L167.0,634.5 L168.0,634.6 L169.0,634.2 L170.0,634.3 L171.0,634.0 L172.0,633.9 L173.0,633.8 L174.0,633.4 L175.0,633.2 L176.0,633.1 L177.0,632.9 L178.0,632.6 L179.0,632.8 L180.0,632.7 L181.0,632.5 L182.0,632.2 L183.0,632.0 L184.0,632.2 L185.0,632.3 L186.0,632.2 L187.0,632.5 L188.0,632.2 L189.0,632.3 L190.0,632.3 L191.0,632.2 L192.0,632.5 L193.0,632.5 L194.0,632.6 L195.0,632.9 L196.0,632.8 L197.0,632.8 L198.0,632.5 L199.0,632.5 L200.0,632.5 L201.0,632.2 L202.0,632.3 L203.0,632.0 L204.0,631.7 L205.0,631.7 L206.0,631.1 L207.0,631.2 L207.5,634.5 L208.1,646.6 L208.7,635.8 L209.3,645.9 L209.9,635.5 L210.5,646.3 L211.1,634.8 L211.7,645.5 L212.3,635.9 L212.9,645.6 L213.5,637.0 L214.1,645.3 L214.7,637.3 L215.3,645.6 L215.9,636.5 L216.5,646.0 L217.1,635.1 L217.7,644.9 L218.3,636.5 L218.9,646.1 L219.5,636.1 L220.1,645.8 L220.7,636.3 L221.3,645.8 L221.9,637.5 L222.5,644.7 L223.1,636.7 L223.7,646.3 L224.3,635.6 L224.9,644.7 L225.5,636.8 L226.1,645.2 L226.7,637.0 L227.3,646.3 L227.9,636.1 L228.5,645.6 L229.1,637.4 L229.7,644.2 L230.3,636.0 L230.9,645.6 L231.5,637.7 L232.1,645.4 L232.6,645.0 L233.2,628.7 L233.5,627.8 L234.5,627.9 L235.5,628.1 L236.5,627.9 L237.5,628.2 L238.5,628.2 L239.5,627.9 L240.5,627.8 L241.5,628.2 L242.5,628.0 L243.5,628.2 L244.5,628.1 L245.5,627.9 L246.5,628.0 L247.5,627.9 L248.5,628.0 L249.5,628.0 L250.5,628.0 L251.5,628.0 L252.5,628.4 L253.5,627.8 L254.5,628.0 L255.5,628.1 L256.5,628.2 L257.5,628.2 L258.5,627.9 L259.5,628.0 L260.5,628.3 L261.5,628.0 L262.5,627.8 L263.5,628.0 L264.5,627.8 L265.5,628.0 L266.5,628.0 L267.5,628.0 L268.5,628.0 L269.5,628.1 L270.5,628.1 L271.5,628.1 L272.5,628.1 L273.5,628.1 L274.5,628.2 L275.5,628.1 L276.5,628.2 L277.5,628.1 L278.5,628.0 L279.5,628.0 L280.5,628.3 L281.5,628.2 L282.5,628.1 L283.5,628.0 L284.5,628.0 L285.5,628.1 L286.5,628.1 L287.5,627.9 L288.5,627.7 L289.5,627.9 L290.5,628.1 L291.5,627.8 L292.5,628.3 L293.5,628.1 L294.5,628.1 L295.5,628.0 L296.5,627.9 L297.5,627.7 L298.5,628.0 L299.5,627.9 L300.5,628.0 L301.5,628.1 L302.5,627.9 L303.5,628.1 L304.5,628.1 L305.5,628.0 L306.5,627.9 L307.5,628.2 L308.5,628.2 L309.5,628.0 L310.5,628.0 L311.5,628.0 L312.5,628.1 L313.5,628.3 L314.5,628.2 L315.5,628.1 L316.5,628.2 L317.5,628.2 L318.5,628.6 L319.5,628.4 L320.5,628.0 L321.5,628.3 L322.5,628.3 L323.5,628.2 L324.5,628.2 L325.5,628.6 L326.5,628.5 L327.5,628.1 L328.5,628.6 L329.5,628.4 L330.5,628.4 L331.5,628.4 L332.5,628.3 L333.5,628.6 L334.5,628.6 L335.5,628.6 L336.5,628.4 L337.5,628.4 L338.5,628.6 L339.5,628.5 L340.5,628.6 L341.5,628.5 L342.5,628.8 L343.5,628.3 L344.5,628.6 L345.5,628.5 L346.5,628.3 L347.5,628.6 L348.5,628.7 L349.5,628.7 L350.5,628.8 L351.5,628.5 L352.5,628.5 L353.5,628.7 L354.5,628.6 L355.5,628.4 L356.5,628.6 L357.5,628.6 L358.5,628.8 L359.5,628.9 L360.5,628.8 L361.5,629.0 L362.5,628.6 L363.5,628.6 L364.5,628.9 L365.5,628.8 L366.5,629.0 L367.5,628.5 L368.5,628.9 L369.5,628.8 L370.5,628.9 L371.5,628.8 L372.5,628.8 L373.5,628.8 L374.5,629.2 L375.5,628.7 L376.5,629.0 L377.5,629.2 L378.5,628.9 L379.5,628.8 L380.5,628.7 L381.5,629.0 L382.5,629.0 L383.5,629.0 L384.5,628.8 L385.5,628.8 L386.5,628.6 L387.5,628.8 L388.5,628.7 L389.5,628.5 L390.5,628.9 L391.5,628.3 L392.5,628.7 L393.5,628.7 L394.5,628.5 L395.5,628.6 L396.5,628.5 L397.5,628.8 L398.5,628.4 L399.5,628.5 L400.5,628.9 L401.5,628.4 L402.5,628.4 L403.5,628.3 L404.5,628.5 L405.5,628.4 L406.5,628.5 L407.5,628.6 L408.5,628.6 L409.5,628.4 L410.5,628.5 L411.5,628.3 L412.5,628.4 L413.5,628.4 L414.5,628.3 L415.5,628.5 L416.5,628.5 L417.5,628.4 L418.5,628.0 L419.5,628.3 L420.5,628.2 L421.5,628.2 L422.5,628.3 L423.5,628.0 L424.5,628.1 L425.5,628.3 L426.5,628.2 L427.5,628.1 L428.5,628.5 L431.0,632.0 L433.0,640.0 L436.0,636.0 L438.0,642.0 L438.5,635.7 L438.9,647.3 L439.3,638.5 L439.7,643.9 L440.1,633.8 L440.5,646.1 L440.9,636.1 L441.3,641.6 L441.7,631.0 L442.1,646.5 L442.5,638.2 L442.9,646.0 L443.3,640.6 L443.7,645.7 L444.1,635.6 L444.5,643.7 L444.9,629.2 L445.3,642.2 L445.7,633.1 L446.1,644.2 L446.5,631.9 L446.9,649.2 L447.3,633.2 L447.7,646.0 L448.1,633.0 L448.5,645.2 L448.9,634.2 L449.3,647.3 L449.7,634.1 L450.1,644.4 L450.5,635.7 L450.9,641.9 L451.3,628.0 L451.7,639.8 L452.1,627.9 L452.5,642.2 L452.9,628.1 L453.3,645.3 L453.7,632.9 L454.1,646.1 L454.5,632.1 L454.9,641.9 L455.3,633.0 L455.7,638.0 L456.1,630.8 L456.5,641.2 L456.9,629.7 L457.3,645.8 L457.7,636.8 L458.1,649.2 L458.5,637.1 L458.9,646.4 L459.3,638.4 L459.7,647.8 L460.1,635.4 L460.5,648.5 L460.9,637.1 L461.3,646.5 L461.6,640.0 L461.7,635.8 L461.9,613.7 L462.1,648.1 L462.3,640.0 L462.5,633.4 L462.9,646.8 L463.3,636.9 L463.7,647.6 L464.1,632.1 L464.5,643.0 L464.9,636.3 L465.3,647.1 L465.7,634.2 L466.1,643.3 L466.5,634.1 L466.9,644.4 L467.3,631.5 L467.7,644.8 L468.1,634.1 L468.5,640.4 L468.9,634.0 L469.3,642.7 L469.7,634.6 L470.1,645.3 L470.5,634.5 L470.9,642.2 L471.3,634.8 L471.7,641.5 L472.1,626.4 L472.5,638.1 L472.9,633.8 L473.3,639.4 L473.7,629.5 L474.1,642.9 L474.5,626.6 L474.9,639.6 L475.3,634.0 L475.7,640.4 L476.1,632.6 L476.5,646.6 L476.9,633.6 L477.3,638.8 L477.7,633.1 L478.1,638.2 L478.5,633.7 L478.9,641.2 L479.3,637.1 L479.7,645.3 L480.1,633.6 L480.5,638.7 L480.9,632.7 L481.3,638.4 L481.7,626.5 L482.1,641.5 L482.5,635.7 L482.9,647.0 L483.3,637.5 L483.7,649.4 L484.1,635.7 L484.5,653.4 L484.9,645.5 L485.3,654.5 L485.7,640.5 L486.1,651.3 L486.5,642.1 L486.9,645.4 L487.3,639.2 L487.7,645.5 L488.1,634.9 L488.5,642.0 L488.9,631.8 L489.3,648.7 L489.7,634.3 L490.1,645.5 L490.5,636.0 L490.9,644.6 L491.3,628.9 L491.7,640.4 L492.1,632.8 L492.5,642.2 L492.9,628.4 L493.3,643.5 L493.7,631.8 L494.1,639.6 L494.5,633.3 L494.9,640.7 L495.3,629.9 L495.7,641.7 L496.1,635.4 L496.5,645.2 L496.9,634.8 L497.3,643.6 L497.7,638.3 L498.1,646.5 L498.5,638.6 L498.9,641.9 L499.3,632.7 L499.7,638.1 L500.1,631.5 L500.5,641.0 L500.9,632.8 L501.3,643.7 L501.7,638.0 L502.1,647.7 L502.5,633.2 L502.9,636.0 L503.3,625.0 L503.7,632.0 L504.1,619.9 L504.5,629.4 L504.9,623.6 L505.3,634.6 L505.7,631.8 L506.1,643.2 L506.5,635.5 L506.9,644.5 L507.3,631.5 L507.7,645.5 L508.1,632.8 L508.5,643.3 L508.9,635.6 L509.3,647.8 L509.7,641.7 L510.1,650.0 L510.5,638.1 L510.9,642.0 L511.3,632.7 L511.7,639.8 L512.1,631.2 L512.5,644.2 L512.9,637.2 L513.3,641.0 L513.7,634.4 L514.1,642.4 L514.5,628.9 L514.9,641.1 L515.3,631.2 L515.7,637.7 L516.1,630.5 L516.5,639.3 L516.9,632.2 L517.3,641.5 L517.7,633.1 L518.1,647.7 L518.5,635.3 L518.9,642.0 L519.3,634.6 L519.7,645.8 L520.1,637.5 L520.5,646.2 L520.9,635.7 L521.3,645.7 L521.7,628.4 L522.1,639.3 L522.5,628.4 L522.9,637.6 L523.3,630.1 L523.7,636.6 L524.1,631.2 L524.5,640.9 L524.9,632.3 L525.3,644.9 L525.7,636.2 L526.1,641.7 L526.5,634.7 L526.9,645.8 L527.3,632.5 L527.7,638.3 L528.1,626.2 L528.5,641.2 L528.9,630.6 L529.3,645.1 L529.7,632.3 L530.1,643.9 L530.5,633.8 L530.9,644.8 L531.3,634.4 L531.7,641.8 L532.1,634.2 L532.5,641.2 L532.9,632.2 L533.3,634.5 L533.7,624.0 L534.1,632.9 L534.5,626.5 L534.9,631.2 L535.3,625.5 L535.7,637.5 L536.1,627.0 L536.5,636.3 L536.9,629.7 L537.3,637.1 L537.7,627.6 L538.1,639.4 L538.5,630.2 L538.9,642.6 L539.3,635.2 L539.7,645.9 L540.1,634.9 L540.5,638.0 L540.9,627.7 L541.3,640.2 L541.7,625.8 L542.1,641.0 L542.5,629.0 L542.9,643.3 L543.3,629.2 L543.7,640.8 L544.1,628.5 L544.5,639.9 L544.9,630.8 L545.3,638.5 L545.7,628.2 L546.1,636.1 L546.5,630.8 L546.9,640.0 L547.3,625.8 L547.7,634.2 L548.1,627.8 L548.5,635.5 L548.9,626.9 L549.3,636.3 L549.7,628.0 L550.1,637.2 L550.5,630.8 L550.9,643.1 L551.3,631.3 L551.7,641.1 L552.1,629.2 L552.5,636.0 L552.9,624.2 L553.3,636.1 L553.7,622.5 L554.1,633.3 L554.5,620.6 L554.9,633.3 L555.3,630.4 L555.7,644.2 L556.1,631.2 L556.5,639.4 L556.9,630.5 L557.3,640.8 L557.7,624.5 L558.1,635.2 L558.5,631.4 L558.9,637.1 L559.3,630.7 L559.7,638.7 L560.1,631.8 L560.5,636.6 L560.9,629.6 L561.3,636.4 L561.7,623.9 L562.1,637.4 L562.5,626.4 L562.9,638.0 L563.3,630.5 L563.7,637.2 L564.1,627.6 L564.5,636.0 L564.9,622.2 L565.3,634.8 L565.7,630.5 L566.1,637.6 L566.5,632.4 L566.9,636.3 L567.3,628.5 L567.7,636.9 L568.1,622.9 L568.5,633.0 L568.9,623.8 L569.3,636.6 L569.7,625.4 L570.1,634.0 L570.5,627.0 L570.9,634.3 L571.3,622.8 L571.7,635.9 L572.1,623.6 L572.5,639.7 L572.9,626.2 L573.3,639.2 L573.7,625.3 L574.1,634.1 L574.5,627.6 L574.9,635.9 L575.3,629.9 L575.7,638.3 L576.1,627.6 L576.5,634.8 L576.9,625.1 L577.3,633.8 L577.7,622.1 L578.1,631.5 L578.5,623.6 L578.9,632.4 L579.3,627.4 L579.7,635.6 L580.1,627.1 L580.5,633.0 L580.9,625.2 L581.3,637.6 L581.7,628.5 L582.1,638.8 L582.5,630.6 L582.9,643.0 L583.3,630.6 L583.7,634.8 L584.1,625.9 L584.5,633.1 L584.9,620.5 L585.3,634.7 L585.7,624.4 L586.1,633.7 L586.5,629.3 L586.9,643.5 L587.3,636.7 L587.7,646.7 L588.1,636.6 L588.5,644.1 L588.9,638.2 L589.3,643.4 L589.7,636.4 L590.1,646.5 L590.5,635.2 L590.9,648.7 L591.3,639.2 L591.7,652.0 L592.1,640.5 L592.5,650.3 L592.9,637.8 L593.3,650.7 L593.7,640.2 L594.1,653.1 L594.5,640.9 L594.9,651.2 L595.3,643.5 L595.7,657.0 L596.1,643.9 L596.5,656.1 L596.9,640.2 L597.3,650.6 L597.7,638.2 L598.1,648.8 L598.5,632.4 L598.9,644.7 L599.3,631.0 L599.7,645.6 L600.1,633.2 L600.5,640.7 L600.9,631.7 L601.2,632.1 L601.9,638.6 L602.6,633.2 L603.3,638.1 L604.0,634.4 L604.7,640.2 L605.4,634.8 L606.1,638.9 L606.8,632.7 L607.5,638.6 L608.2,634.6 L608.9,637.6 L609.6,633.0 L610.3,637.6 L611.0,633.6 L611.7,639.0 L612.4,633.0 L613.1,638.1 L613.8,634.4 L614.5,640.0 L615.2,633.5 L615.9,639.4 L616.6,635.6 L617.3,637.3 L618.0,634.8 L618.7,638.9 L619.4,633.6 L620.1,639.3 L620.8,633.0 L621.5,640.0 L622.0,616.6 L622.6,630.0 L625.0,622.0 L626.0,621.6 L627.0,621.5 L628.0,621.0 L629.0,621.4 L630.0,622.2 L631.0,622.5 L632.0,620.8 L633.0,622.0 L634.0,622.3 L635.0,621.2 L636.0,621.7 L637.0,621.3 L638.0,621.5 L639.0,621.8 L640.0,621.6 L641.0,621.8 L642.0,621.8 L643.0,621.7 L644.0,621.8 L645.0,621.9 L646.0,622.6 L647.0,621.8 L648.0,622.3 L649.0,622.2 L650.0,622.2 L651.0,622.4 L652.0,622.1 L653.0,622.5 L654.0,622.1 L655.0,621.6 L656.0,621.5 L657.0,622.1 L658.0,622.6 L659.0,622.5 L660.0,622.5 L661.0,622.8 L662.0,622.4 L663.0,621.8 L664.0,621.9 L665.0,621.7 L666.0,622.4 L667.0,622.2 L668.0,622.5 L669.0,622.7 L670.0,622.7 L671.0,621.9 L672.0,622.4 L673.0,622.0 L674.0,622.6 L675.0,622.5 L676.0,623.1 L677.0,622.3 L678.0,622.2 L679.0,623.0 L680.0,623.1 L681.0,622.9 L682.0,622.6 L683.0,622.2 L684.0,621.8 L685.0,622.7 L686.0,621.9 L687.0,621.8 L688.0,622.3 L689.0,622.6 L690.0,622.0 L691.0,622.7 L692.0,622.3 L693.0,622.2 L694.0,622.2 L695.0,622.6 L696.0,622.5 L697.0,622.3 L698.0,622.2 L699.0,622.6 L700.0,622.1 L701.0,622.0 L702.0,622.8 L703.0,622.3 L704.0,622.3 L705.0,622.5 L706.0,622.8 L707.0,622.1 L708.0,622.1 L709.0,622.3 L710.0,622.4 L711.0,622.8 L712.0,621.8 L713.0,622.0 L714.0,622.0 L715.0,622.3 L716.0,622.6 L717.0,621.9 L718.0,621.9 L719.0,621.3 L720.0,621.6 L721.0,622.2 L722.0,622.1 L723.0,622.2 L724.0,622.0 L725.0,622.9 L726.0,622.6 L727.0,621.9 L728.0,621.7 L729.0,621.9 L730.0,621.6 L731.0,621.9 L732.0,622.4 L733.0,621.7 L734.0,621.4 L735.0,621.3 L736.0,621.6 L737.0,622.5 L738.0,621.5 L739.0,621.8 L740.0,621.4 L741.0,622.1 L742.0,621.9 L743.0,621.4 L744.0,621.4 L745.0,621.1 L746.0,621.1 L747.0,621.8 L748.0,622.1 L749.0,621.7 L750.0,622.0 L751.0,621.9 L752.0,621.2 L753.0,621.9 L754.0,622.3 L755.0,621.9 L756.0,622.0 L757.0,622.6 L758.0,621.8 L759.0,622.3 L760.0,622.0 L761.0,622.7 L762.0,622.3 L763.0,622.8 L764.0,622.1 L765.0,622.7 L766.0,622.0 L767.0,622.0 L768.0,622.0 L769.0,622.2 L770.0,622.5 L771.0,622.5 L772.0,622.0 L773.0,622.2 L774.0,622.3 L775.0,622.3 L776.0,622.2 L777.0,622.4 L778.0,622.4 L779.0,622.3 L780.0,622.1 L781.0,622.0 L782.0,621.9 L783.0,623.0 L784.0,621.5 L785.0,622.2 L786.0,622.2 L787.0,621.8 L788.0,622.3 L789.0,622.2 L790.0,622.6 L791.0,622.3 L792.0,622.6 L793.0,623.1 L794.0,623.0 L795.0,622.6 L796.0,622.2 L797.0,622.8 L798.0,622.6 L799.0,623.0 L800.0,622.9 L801.0,622.5 L802.0,622.6 L803.0,622.7 L804.0,621.9 L805.0,623.0 L806.0,622.3 L807.0,622.0 L808.0,622.7 L809.0,622.7 L810.0,623.1 L811.0,622.6 L812.0,622.7 L813.0,622.4 L814.0,622.3 L815.0,623.3 L816.0,622.6 L817.0,622.5 L818.0,622.2 L819.0,622.8 L820.0,622.2" fill="none" stroke="#e3202d" stroke-width="2" stroke-linejoin="miter" stroke-miterlimit="2"/>
<path d="M139.3,641.3 L140.3,641.3 L141.3,641.3 L142.3,641.3 L143.3,641.3 L144.3,641.3 L145.3,641.3 L146.3,641.3 L147.3,641.3 L148.3,641.3 L149.3,641.3 L150.3,641.3 L151.3,641.3 L152.3,641.3 L153.3,641.3 L154.3,641.3 L155.3,641.3 L156.3,641.3 L157.3,641.3 L158.3,641.3 L159.3,641.3 L160.3,641.3 L161.3,641.3 L162.3,641.3 L163.3,641.3 L164.3,641.3 L165.3,641.3 L166.3,641.3 L167.3,641.3 L168.3,641.3 L169.3,641.3 L170.3,641.3 L171.3,641.3 L172.3,641.3 L173.3,641.3 L174.3,641.3 L175.3,641.3 L176.3,641.3 L177.3,641.3 L178.3,641.3 L179.3,641.3 L180.3,641.3 L181.3,641.3 L182.3,641.3 L183.3,641.3 L184.3,641.3 L185.3,641.3 L186.3,641.3 L187.3,641.3 L188.3,641.3 L189.3,641.3 L190.3,641.3 L191.3,641.3 L192.3,641.3 L193.3,641.3 L194.3,641.3 L195.3,641.3 L196.3,641.3 L197.3,641.3 L198.3,641.3 L199.3,641.3 L200.3,641.3 L201.3,641.3 L202.3,641.3 L203.3,641.3 L204.3,641.3 L205.3,641.3 L206.3,641.3 L207.5,641.4 L207.5,641.4 L207.9,650.6 L208.1,647.5 L208.3,641.1 L208.7,637.0 L208.7,650.6 L209.1,644.0 L209.3,647.7 L209.5,652.5 L209.9,638.5 L209.9,643.9 L210.3,657.1 L210.4,650.0 L210.5,647.5 L210.7,657.0 L210.7,641.4 L211.0,645.0 L211.1,639.2 L211.1,651.1 L211.5,640.8 L211.7,647.7 L211.9,650.9 L212.3,641.5 L212.3,642.4 L212.8,640.0 L212.9,653.3 L213.2,495.2 L213.5,639.0 L213.6,640.0 L214.1,647.4 L214.7,636.6 L215.3,652.9 L215.9,638.7 L216.5,650.2 L217.1,642.3 L217.7,653.6 L218.3,642.1 L218.9,647.1 L219.5,637.7 L219.5,643.0 L219.9,646.3 L220.0,645.0 L220.1,652.2 L220.3,651.0 L220.3,627.1 L220.7,637.3 L220.7,647.5 L221.1,615.6 L221.3,650.1 L221.5,639.8 L221.9,637.3 L221.9,602.9 L222.1,640.0 L222.3,643.3 L222.5,648.4 L222.5,496.4 L222.7,602.1 L222.9,640.0 L223.1,642.1 L223.1,640.9 L223.5,640.0 L223.5,612.5 L223.7,649.1 L223.9,647.1 L224.0,610.0 L224.3,640.8 L224.3,617.6 L224.6,645.0 L224.7,639.1 L224.9,647.1 L225.1,623.1 L225.5,642.7 L225.5,647.9 L225.9,634.0 L226.1,647.7 L226.3,646.6 L226.7,638.0 L227.3,645.5 L227.9,640.4 L228.5,645.4 L229.1,641.8 L229.7,648.7 L230.3,639.5 L230.9,645.4 L231.5,639.0 L232.1,644.8 L232.5,641.3 L233.5,641.3 L234.5,641.3 L235.5,641.3 L236.5,641.3 L237.5,641.3 L238.5,641.3 L239.5,641.3 L240.5,641.3 L241.5,641.3 L242.5,641.3 L243.5,641.3 L244.5,641.3 L245.5,641.3 L246.5,641.3 L247.5,641.3 L248.5,641.3 L249.5,641.3 L250.5,641.3 L251.5,641.3 L252.5,641.3 L253.5,641.3 L254.5,641.3 L255.5,641.3 L256.5,641.3 L257.5,641.3 L258.5,641.3 L259.5,641.3 L260.5,641.3 L261.5,641.3 L262.5,641.3 L263.5,641.3 L264.5,641.3 L265.5,641.3 L266.5,641.3 L267.5,641.3 L268.5,641.3 L269.5,641.3 L270.5,641.3 L271.5,641.3 L272.5,641.3 L273.5,641.3 L274.5,641.3 L275.5,641.3 L276.5,641.3 L277.5,641.3 L278.5,641.3 L279.5,641.3 L280.5,641.3 L281.5,641.3 L282.5,641.3 L283.5,641.3 L284.5,641.3 L285.5,641.3 L286.5,641.3 L287.5,641.3 L288.5,641.3 L289.5,641.3 L290.5,641.3 L291.5,641.3 L292.5,641.3 L293.5,641.3 L294.5,641.3 L295.5,641.3 L296.5,641.3 L297.5,641.3 L298.5,641.3 L299.5,641.3 L300.5,641.3 L301.5,641.3 L302.5,641.3 L303.5,641.3 L304.5,641.3 L305.5,641.3 L306.5,641.3 L307.5,641.3 L308.5,641.3 L309.5,641.3 L310.5,641.3 L311.5,641.3 L312.5,641.3 L313.5,641.3 L314.5,641.3 L315.5,641.3 L316.5,641.3 L317.5,641.3 L318.5,641.3 L319.5,641.3 L320.5,641.3 L321.5,641.3 L322.5,641.3 L323.5,641.3 L324.5,641.3 L325.5,641.3 L326.5,641.3 L327.5,641.3 L328.5,641.3 L329.5,641.3 L330.5,641.3 L331.5,641.3 L332.5,641.3 L333.5,641.3 L334.5,641.3 L335.5,641.3 L336.5,641.3 L337.5,641.3 L338.5,641.3 L339.5,641.3 L340.5,641.3 L341.5,641.3 L342.5,641.3 L343.5,641.3 L344.5,641.3 L345.5,641.3 L346.5,641.3 L347.5,641.3 L348.5,641.3 L349.5,641.3 L350.5,641.3 L351.5,641.3 L352.5,641.3 L353.5,641.3 L354.5,641.3 L355.5,641.3 L356.5,641.3 L357.5,641.3 L358.5,641.3 L359.5,641.3 L360.5,641.3 L361.5,641.3 L362.5,641.3 L363.5,641.3 L364.5,641.3 L365.5,641.3 L366.5,641.3 L367.5,641.3 L368.5,641.3 L369.5,641.3 L370.5,641.3 L371.5,641.3 L372.5,641.3 L373.5,641.3 L374.5,641.3 L375.5,641.3 L376.5,641.3 L377.5,641.3 L378.5,641.3 L379.5,641.3 L380.5,641.3 L381.5,641.3 L382.5,641.3 L383.5,641.3 L384.5,641.3 L385.5,641.3 L386.5,641.3 L387.5,641.3 L388.5,641.3 L389.5,641.3 L390.5,641.3 L391.5,641.3 L392.5,641.3 L393.5,641.3 L394.5,641.3 L395.5,641.3 L396.5,641.3 L397.5,641.3 L398.5,641.3 L399.5,641.3 L400.5,641.3 L401.5,641.3 L402.5,641.3 L403.5,641.3 L404.5,641.3 L405.5,641.3 L406.5,641.3 L407.5,641.3 L408.5,641.3 L409.5,641.3 L410.5,641.3 L411.5,641.3 L412.5,641.3 L413.5,641.3 L414.5,641.3 L415.5,641.3 L416.5,641.3 L417.5,641.3 L418.5,641.3 L419.5,641.3 L420.5,641.3 L421.5,641.3 L422.5,641.3 L423.5,641.3 L424.5,641.3 L425.5,641.3 L426.5,641.3 L427.5,641.3 L428.5,641.3 L429.5,641.3 L430.5,641.3 L431.5,641.3 L432.5,641.3 L432.6,643.0 L432.7,656.0 L433.0,654.2 L433.4,642.6 L433.8,654.3 L434.2,642.5 L434.6,654.6 L435.0,642.3 L435.4,654.3 L435.7,656.0 L435.8,642.4 L436.2,655.4 L436.2,641.0 L436.5,642.2 L436.6,642.2 L436.9,651.5 L437.3,640.5 L437.7,658.6 L438.1,647.3 L438.5,653.9 L438.9,645.6 L439.3,651.8 L439.7,642.3 L440.1,655.0 L440.5,640.8 L440.9,657.8 L441.3,646.4 L441.7,656.3 L442.1,637.6 L442.5,654.9 L442.9,634.6 L443.3,649.9 L443.7,636.2 L444.1,652.4 L444.5,640.6 L444.9,656.2 L445.3,640.3 L445.7,652.6 L446.1,643.8 L446.5,654.1 L446.9,641.5 L447.3,658.5 L447.7,645.4 L448.1,660.3 L448.5,639.5 L448.9,654.2 L449.3,634.4 L449.7,647.0 L450.1,630.7 L450.5,645.0 L450.9,638.7 L451.3,648.7 L451.7,643.2 L452.1,656.3 L452.5,641.5 L452.9,656.9 L453.3,642.2 L453.7,653.5 L454.1,637.6 L454.5,648.3 L454.9,640.2 L455.3,653.8 L455.7,641.3 L456.1,657.2 L456.5,643.3 L456.9,654.3 L457.3,642.3 L457.7,657.5 L458.1,641.7 L458.5,659.3 L458.9,649.1 L459.3,661.8 L459.7,643.1 L460.1,655.4 L460.5,647.0 L460.9,658.9 L461.3,643.4 L461.7,654.4 L462.1,644.2 L462.5,656.9 L462.9,641.8 L463.3,657.1 L463.7,643.7 L464.1,650.4 L464.5,642.2 L464.9,651.0 L465.3,639.7 L465.7,651.4 L466.1,639.2 L466.5,649.7 L466.9,643.5 L467.3,654.4 L467.7,639.1 L468.1,653.6 L468.5,647.3 L468.9,651.6 L469.3,638.1 L469.7,652.9 L470.1,633.2 L470.5,648.1 L470.9,641.0 L471.3,647.3 L471.7,636.3 L472.1,651.3 L472.5,636.9 L472.9,646.3 L473.3,643.2 L473.7,651.1 L474.1,645.6 L474.5,652.7 L474.9,645.0 L475.3,652.2 L475.7,638.3 L476.1,646.8 L476.5,643.1 L476.9,652.2 L477.3,638.8 L477.7,654.8 L478.1,644.7 L478.5,654.1 L478.9,639.7 L479.3,651.4 L479.7,633.5 L480.1,652.8 L480.5,643.0 L480.9,654.4 L481.3,640.0 L481.7,656.1 L482.1,649.9 L482.5,658.6 L482.9,654.7 L483.3,663.8 L483.7,651.8 L484.1,659.6 L484.5,645.8 L484.9,663.3 L485.3,645.1 L485.7,658.5 L486.1,647.7 L486.5,658.6 L486.9,641.3 L487.3,655.7 L487.7,646.6 L488.1,656.5 L488.5,638.7 L488.9,655.3 L489.3,640.8 L489.7,649.7 L490.1,642.0 L490.5,649.7 L490.9,635.5 L491.3,647.9 L491.7,640.1 L492.1,651.9 L492.5,640.2 L492.9,650.8 L493.3,644.4 L493.7,653.9 L494.1,645.1 L494.5,649.9 L494.9,641.3 L495.3,650.3 L495.7,643.8 L496.1,654.0 L496.5,642.0 L496.9,652.4 L497.3,643.9 L497.7,654.8 L498.1,640.3 L498.5,648.9 L498.9,641.8 L499.3,654.0 L499.7,641.5 L500.1,651.9 L500.5,640.7 L500.9,646.1 L501.3,634.5 L501.7,641.9 L502.1,629.8 L502.5,640.1 L502.9,627.4 L503.3,648.0 L503.7,636.7 L504.1,650.5 L504.5,640.6 L504.9,653.6 L505.3,645.8 L505.7,656.6 L506.1,645.4 L506.5,653.4 L506.9,645.9 L507.3,656.6 L507.7,646.5 L508.1,659.4 L508.5,647.8 L508.9,650.2 L509.3,642.0 L509.7,651.9 L510.1,637.5 L510.5,654.3 L510.9,644.4 L511.3,651.5 L511.7,640.7 L512.1,648.4 L512.5,637.6 L512.9,645.9 L513.3,634.6 L513.7,652.2 L514.1,639.4 L514.5,649.3 L514.9,642.3 L515.3,656.6 L515.7,647.0 L516.1,656.9 L516.5,644.8 L516.9,658.2 L517.3,640.4 L517.7,655.9 L518.1,644.6 L518.5,655.4 L518.9,644.5 L519.3,648.5 L519.7,638.5 L520.1,647.2 L520.5,635.7 L520.9,649.7 L521.3,639.2 L521.7,646.1 L522.1,639.4 L522.5,654.5 L522.9,641.9 L523.3,651.8 L523.7,639.4 L524.1,656.4 L524.5,640.9 L524.9,654.0 L525.3,635.7 L525.7,647.6 L526.1,635.9 L526.5,650.9 L526.9,641.2 L527.3,652.3 L527.7,645.5 L528.1,655.8 L528.5,647.2 L528.9,651.8 L529.3,641.2 L529.7,653.0 L530.1,645.3 L530.5,649.2 L530.9,639.9 L531.3,650.6 L531.7,634.8 L532.1,643.1 L532.5,633.8 L532.9,642.1 L533.3,631.2 L533.7,644.9 L534.1,632.9 L534.5,645.8 L534.9,636.1 L535.3,649.1 L535.7,638.5 L536.1,646.7 L536.5,640.4 L536.9,659.6 L537.3,644.1 L537.7,660.0 L538.1,642.4 L538.5,654.8 L538.9,634.8 L539.3,647.4 L539.7,634.3 L540.1,650.0 L540.5,641.3 L540.9,652.1 L541.3,640.8 L541.7,649.7 L542.1,642.7 L542.5,653.3 L542.9,637.0 L543.3,647.4 L543.7,640.4 L544.1,649.9 L544.5,639.6 L544.9,648.8 L545.3,636.3 L545.7,644.2 L546.1,634.7 L546.5,648.5 L546.9,635.3 L547.3,649.4 L547.7,639.3 L548.1,651.0 L548.5,639.8 L548.9,655.3 L549.3,640.3 L549.7,652.4 L550.1,634.6 L550.5,645.0 L550.9,636.8 L551.3,649.0 L551.7,630.7 L552.1,639.9 L552.5,632.1 L552.9,649.1 L553.3,634.6 L553.7,649.9 L554.1,646.2 L554.5,651.6 L554.9,641.3 L555.3,648.2 L555.7,639.8 L556.1,647.5 L556.5,642.2 L556.9,652.6 L557.3,638.9 L557.7,653.9 L558.1,638.7 L558.5,649.9 L558.9,640.1 L559.3,648.4 L559.7,638.9 L560.1,651.3 L560.5,636.2 L560.9,649.7 L561.3,641.3 L561.7,646.3 L562.1,638.2 L562.5,643.0 L562.9,636.2 L563.3,650.3 L563.7,637.6 L564.1,650.8 L564.5,638.6 L564.9,651.3 L565.3,635.7 L565.7,644.1 L566.1,635.5 L566.5,645.4 L566.9,633.0 L567.3,647.7 L567.7,631.4 L568.1,648.9 L568.5,632.2 L568.9,646.7 L569.3,630.6 L569.7,642.3 L570.1,636.0 L570.5,646.2 L570.9,639.0 L571.3,649.9 L571.7,639.2 L572.1,649.5 L572.5,639.8 L572.9,651.3 L573.3,637.6 L573.7,647.5 L574.1,635.6 L574.5,642.6 L574.9,633.8 L575.3,641.4 L575.7,630.9 L576.1,637.9 L576.5,629.1 L576.9,644.3 L577.3,633.9 L577.7,645.3 L578.1,634.7 L578.5,649.2 L578.9,636.3 L579.3,644.0 L579.7,636.0 L580.1,646.4 L580.5,632.7 L580.9,648.6 L581.3,633.7 L581.7,640.1 L582.1,629.9 L582.5,642.3 L582.9,631.5 L583.3,642.5 L583.7,631.4 L584.1,642.4 L584.5,638.7 L584.9,647.7 L585.3,640.8 L585.7,652.6 L586.1,639.3 L586.5,654.9 L586.9,643.0 L587.3,657.7 L587.7,644.9 L588.1,657.6 L588.5,643.6 L588.9,658.9 L589.3,646.6 L589.7,661.6 L590.1,646.0 L590.5,656.3 L590.9,646.0 L591.3,661.8 L591.7,647.6 L592.1,664.4 L592.5,649.0 L592.9,664.7 L593.3,653.3 L593.7,668.3 L594.1,650.0 L594.5,664.3 L594.9,647.1 L595.3,662.5 L595.7,645.3 L595.8,655.0 L596.1,650.9 L596.3,670.0 L596.5,637.8 L596.8,655.0 L596.9,652.3 L597.3,635.3 L597.7,649.1 L598.1,634.7 L598.5,649.6 L598.9,638.1 L599.3,651.8 L599.7,641.0 L600.1,652.1 L600.5,639.3 L600.9,644.8 L601.5,641.3 L602.5,641.3 L603.5,641.3 L604.5,641.3 L605.5,641.3 L606.5,641.3 L607.5,641.3 L608.5,641.3 L609.5,641.3 L610.5,641.3 L611.5,641.3 L612.5,641.3 L613.5,641.3 L614.5,641.3 L615.5,641.3 L616.5,641.3 L617.5,641.3 L618.5,641.3 L619.5,641.3 L620.5,641.3 L621.5,641.3 L622.5,641.3 L623.5,641.3 L624.5,641.3 L625.5,641.3 L626.5,641.3 L627.5,641.3 L628.5,641.3 L629.5,641.3 L630.5,641.3 L631.5,641.3 L632.5,641.3 L633.5,641.3 L634.5,641.3 L635.5,641.3 L636.5,641.3 L637.5,641.3 L638.5,641.3 L639.5,641.3 L640.5,641.3 L641.5,641.3 L642.5,641.3 L643.5,641.3 L644.5,641.3 L645.5,641.3 L646.5,641.3 L647.5,641.3 L648.5,641.3 L649.5,641.3 L650.5,641.3 L651.5,641.3 L652.5,641.3 L653.5,641.3 L654.5,641.3 L655.5,641.3 L656.5,641.3 L657.5,641.3 L658.5,641.3 L659.5,641.3 L660.5,641.3 L661.5,641.3 L662.5,641.3 L663.5,641.3 L664.5,641.3 L665.5,641.3 L666.5,641.3 L667.5,641.3 L668.5,641.3 L669.5,641.3 L670.5,641.3 L671.5,641.3 L672.5,641.3 L673.5,641.3 L674.5,641.3 L675.5,641.3 L676.5,641.3 L677.5,641.3 L678.5,641.3 L679.5,641.3 L680.5,641.3 L681.5,641.3 L682.5,641.3 L683.5,641.3 L684.5,641.3 L685.5,641.3 L686.5,641.3 L687.5,641.3 L688.5,641.3 L689.5,641.3 L690.5,641.3 L691.5,641.3 L692.5,641.3 L693.5,641.3 L694.5,641.3 L695.5,641.3 L696.5,641.3 L697.5,641.3 L698.5,641.3 L699.5,641.3 L700.5,641.3 L701.5,641.3 L702.5,641.3 L703.5,641.3 L704.5,641.3 L705.5,641.3 L706.5,641.3 L707.5,641.3 L708.5,641.3 L709.5,641.3 L710.5,641.3 L711.5,641.3 L712.5,641.3 L713.5,641.3 L714.5,641.3 L715.5,641.3 L716.5,641.3 L717.5,641.3 L718.5,641.3 L719.5,641.3 L720.5,641.3 L721.5,641.3 L722.5,641.3 L723.5,641.3 L724.5,641.3 L725.5,641.3 L726.5,641.3 L727.5,641.3 L728.5,641.3 L729.5,641.3 L730.5,641.3 L731.5,641.3 L732.5,641.3 L733.5,641.3 L734.5,641.3 L735.5,641.3 L736.5,641.3 L737.5,641.3 L738.5,641.3 L739.5,641.3 L740.5,641.3 L741.5,641.3 L742.5,641.3 L743.5,641.3 L744.5,641.3 L745.5,641.3 L746.5,641.3 L747.5,641.3 L748.5,641.3 L749.5,641.3 L750.5,641.3 L751.5,641.3 L752.5,641.3 L753.5,641.3 L754.5,641.3 L755.5,641.3 L756.5,641.3 L757.5,641.3 L758.5,641.3 L759.5,641.3 L760.5,641.3 L761.5,641.3 L762.5,641.3 L763.5,641.3 L764.5,641.3 L765.5,641.3 L766.5,641.3 L767.5,641.3 L768.5,641.3 L769.5,641.3 L770.5,641.3 L771.5,641.3 L772.5,641.3 L773.5,641.3 L774.5,641.3 L775.5,641.3 L776.5,641.3 L777.5,641.3 L778.5,641.3 L779.5,641.3 L780.5,641.3 L781.5,641.3 L782.5,641.3 L783.5,641.3 L784.5,641.3 L785.5,641.3 L786.5,641.3 L787.5,641.3 L788.5,641.3 L789.5,641.3 L790.5,641.3 L791.5,641.3 L792.5,641.3 L793.5,641.3 L794.5,641.3 L795.5,641.3 L796.5,641.3 L797.5,641.3 L798.5,641.3 L799.5,641.3 L800.5,641.3 L801.5,641.3 L802.5,641.3 L803.5,641.3 L804.5,641.3 L805.5,641.3 L806.5,641.3 L807.5,641.3 L808.5,641.3 L809.5,641.3 L810.5,641.3 L811.5,641.3 L812.5,641.3 L813.5,641.3 L814.5,641.3 L815.5,641.3 L816.5,641.3 L817.5,641.3 L818.5,641.3 L819.5,641.3" fill="none" stroke="#2b8a0c" stroke-width="2" stroke-linejoin="miter" stroke-miterlimit="2"/>
<rect x="105.5" y="481.5" width="749" height="286" fill="none" stroke="#dcdcdc" stroke-width="1"/>
<rect x="105" y="481" width="1" height="287" fill="#aaa"/>
<rect x="105" y="767" width="750" height="1" fill="#aaa"/>
<rect x="99" y="515" width="6" height="1" fill="#aaa"/>
<text x="95" y="519" text-anchor="end" font-size="10.67" fill="#444">15</text>
<rect x="99" y="557" width="6" height="1" fill="#aaa"/>
<text x="95" y="561" text-anchor="end" font-size="10.67" fill="#444">10</text>
<rect x="99" y="599" width="6" height="1" fill="#aaa"/>
<text x="95" y="603" text-anchor="end" font-size="10.67" fill="#444">5</text>
<rect x="99" y="641" width="6" height="1" fill="#aaa"/>
<text x="95" y="645" text-anchor="end" font-size="10.67" fill="#444">0</text>
<rect x="99" y="683" width="6" height="1" fill="#aaa"/>
<text x="95" y="687" text-anchor="end" font-size="10.67" fill="#444">-5</text>
<rect x="99" y="725" width="6" height="1" fill="#aaa"/>
<text x="95" y="729" text-anchor="end" font-size="10.67" fill="#444">-10</text>
<rect x="101" y="759" width="4" height="1" fill="#aaa"/>
<rect x="101" y="750" width="4" height="1" fill="#aaa"/>
<rect x="101" y="742" width="4" height="1" fill="#aaa"/>
<rect x="101" y="733" width="4" height="1" fill="#aaa"/>
<rect x="101" y="717" width="4" height="1" fill="#aaa"/>
<rect x="101" y="708" width="4" height="1" fill="#aaa"/>
<rect x="101" y="700" width="4" height="1" fill="#aaa"/>
<rect x="101" y="691" width="4" height="1" fill="#aaa"/>
<rect x="101" y="675" width="4" height="1" fill="#aaa"/>
<rect x="101" y="666" width="4" height="1" fill="#aaa"/>
<rect x="101" y="658" width="4" height="1" fill="#aaa"/>
<rect x="101" y="649" width="4" height="1" fill="#aaa"/>
<rect x="101" y="633" width="4" height="1" fill="#aaa"/>
<rect x="101" y="624" width="4" height="1" fill="#aaa"/>
<rect x="101" y="616" width="4" height="1" fill="#aaa"/>
<rect x="101" y="607" width="4" height="1" fill="#aaa"/>
<rect x="101" y="591" width="4" height="1" fill="#aaa"/>
<rect x="101" y="582" width="4" height="1" fill="#aaa"/>
<rect x="101" y="574" width="4" height="1" fill="#aaa"/>
<rect x="101" y="565" width="4" height="1" fill="#aaa"/>
<rect x="101" y="549" width="4" height="1" fill="#aaa"/>
<rect x="101" y="540" width="4" height="1" fill="#aaa"/>
<rect x="101" y="532" width="4" height="1" fill="#aaa"/>
<rect x="101" y="523" width="4" height="1" fill="#aaa"/>
<rect x="101" y="507" width="4" height="1" fill="#aaa"/>
<rect x="101" y="498" width="4" height="1" fill="#aaa"/>
<rect x="101" y="490" width="4" height="1" fill="#aaa"/>
<rect x="150" y="768" width="1" height="6" fill="#aaa"/>
<text x="150.5" y="786.5" text-anchor="middle" font-size="10.67" fill="#444">3:20</text>
<rect x="289" y="768" width="1" height="6" fill="#aaa"/>
<text x="289.5" y="786.5" text-anchor="middle" font-size="10.67" fill="#444">5:00</text>
<rect x="428" y="768" width="1" height="6" fill="#aaa"/>
<text x="428.5" y="786.5" text-anchor="middle" font-size="10.67" fill="#444">6:40</text>
<rect x="567" y="768" width="1" height="6" fill="#aaa"/>
<text x="567.5" y="786.5" text-anchor="middle" font-size="10.67" fill="#444">8:20</text>
<rect x="706" y="768" width="1" height="6" fill="#aaa"/>
<text x="706.5" y="786.5" text-anchor="middle" font-size="10.67" fill="#444">10:00</text>
<rect x="845" y="768" width="1" height="6" fill="#aaa"/>
<text x="845.5" y="786.5" text-anchor="middle" font-size="10.67" fill="#444">11:40</text>
<rect x="123" y="768" width="1" height="4" fill="#aaa"/>
<rect x="178" y="768" width="1" height="4" fill="#aaa"/>
<rect x="206" y="768" width="1" height="4" fill="#aaa"/>
<rect x="234" y="768" width="1" height="4" fill="#aaa"/>
<rect x="262" y="768" width="1" height="4" fill="#aaa"/>
<rect x="317" y="768" width="1" height="4" fill="#aaa"/>
<rect x="345" y="768" width="1" height="4" fill="#aaa"/>
<rect x="373" y="768" width="1" height="4" fill="#aaa"/>
<rect x="401" y="768" width="1" height="4" fill="#aaa"/>
<rect x="456" y="768" width="1" height="4" fill="#aaa"/>
<rect x="484" y="768" width="1" height="4" fill="#aaa"/>
<rect x="512" y="768" width="1" height="4" fill="#aaa"/>
<rect x="540" y="768" width="1" height="4" fill="#aaa"/>
<rect x="595" y="768" width="1" height="4" fill="#aaa"/>
<rect x="623" y="768" width="1" height="4" fill="#aaa"/>
<rect x="651" y="768" width="1" height="4" fill="#aaa"/>
<rect x="679" y="768" width="1" height="4" fill="#aaa"/>
<rect x="734" y="768" width="1" height="4" fill="#aaa"/>
<rect x="762" y="768" width="1" height="4" fill="#aaa"/>
<rect x="790" y="768" width="1" height="4" fill="#aaa"/>
<rect x="818" y="768" width="1" height="4" fill="#aaa"/>
<text transform="translate(71,624.5) rotate(-90)" text-anchor="middle" font-size="13.33" font-style="italic" fill="#444">[deg]</text>
<text x="105.5" y="473" font-size="13.33" font-weight="bold" fill="#444">Pitch Angle</text>
<circle cx="305" cy="499.2" r="2.2" fill="#333"/>
<text x="311" y="502.5" font-size="10.85" fill="#444">MC_PITCH_P: 8.00</text>
<circle cx="417" cy="509.6" r="2.2" fill="#333"/>
<text x="423" y="513" font-size="10.85" fill="#444">COM_FLTMODE6: 0</text>
<rect x="717" y="511" width="20" height="2" fill="#e0202a"/>
<rect x="717" y="534" width="20" height="2" fill="#2a8a10"/>
<text x="742" y="514.7" font-size="13.33" fill="#555">Pitch Estimated</text>
<text x="742" y="537.7" font-size="13.33" fill="#555">Pitch Setpoint</text>
<rect x="855" y="482" width="2" height="28" fill="#26aae1"/>
<rect x="855" y="543" width="2" height="28" fill="#26aae1"/>
<g fill="#9aa0a2" stroke="none"><rect x="865" y="495.1" width="12" height="1.8"/><rect x="870.1" y="490" width="1.8" height="12"/><path d="M863,496 l3,-3 v6z M879,496 l-3,-3 v6z M871,488 l-3,3 h6z M871,504 l-3,-3 h6z"/></g>
<rect x="861.75" y="516.75" width="14.5" height="14.5" fill="none" stroke="#9aa0a2" stroke-width="1.5" stroke-dasharray="2.2,1.6"/>
<circle cx="872.6" cy="520.8" r="5.6" fill="#fff"/>
<circle cx="872.6" cy="520.8" r="4.1" fill="none" stroke="#9aa0a2" stroke-width="1.7"/>
<line x1="869.5" y1="524" x2="865.3" y2="528.3" stroke="#9aa0a2" stroke-width="2.1"/>
<rect x="865" y="540" width="10" height="1" fill="#ddd"/>
<rect x="862.9" y="550.9" width="5.8" height="11.4" rx="2.9" fill="none" stroke="#9aa0a2" stroke-width="1.5"/>
<rect x="865.2" y="553.3" width="1.3" height="1" fill="#9aa0a2"/>
<rect x="865.2" y="555.3" width="1.3" height="1" fill="#9aa0a2"/>
<circle cx="875.8" cy="553.9" r="3.2" fill="none" stroke="#9aa0a2" stroke-width="1.5"/>
<line x1="874.6" y1="557" x2="872.6" y2="562.6" stroke="#9aa0a2" stroke-width="1.5"/>
<rect x="865" y="573" width="10" height="1" fill="#ddd"/>
<path d="M863.2,586.6 A7.3,7.5 0 0 1 876.6,587.5" fill="none" stroke="#9aa0a2" stroke-width="1.7"/>
<path d="M873.6,587.6 L880,587.6 L876.8,591.3 Z" fill="#9aa0a2"/>
<path d="M876.8,592.8 A7.3,7.5 0 0 1 863.3,592.5" fill="none" stroke="#9aa0a2" stroke-width="1.7"/>
<path d="M860,591.4 L866.4,591.4 L863.2,587.7 Z" fill="#9aa0a2"/>
<rect x="862.5" y="610.5" width="15" height="15" fill="none" stroke="#9aa0a2" stroke-width="1"/>
<rect x="865.5" y="610.5" width="9" height="6" fill="none" stroke="#9aa0a2" stroke-width="1"/>
<rect x="871" y="612" width="1.5" height="3" fill="#9aa0a2"/>
<rect x="865" y="634" width="10" height="1" fill="#ddd"/>
</svg></body></html>
